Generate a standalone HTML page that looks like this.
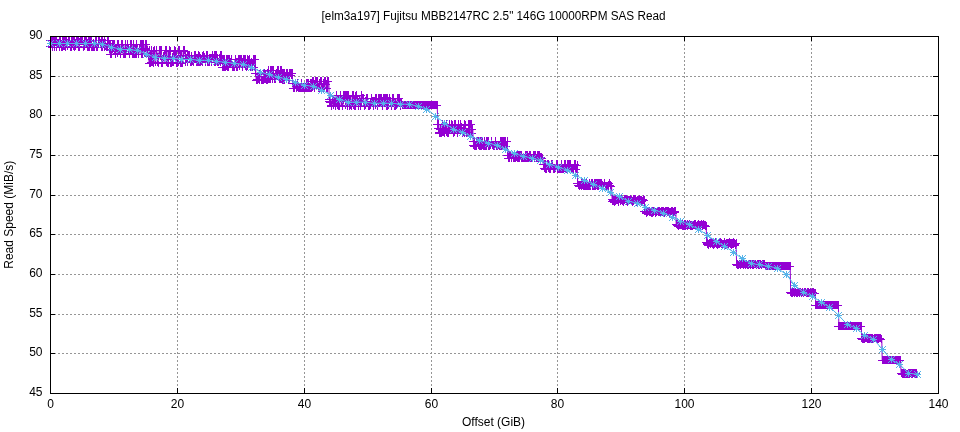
<!DOCTYPE html>
<html><head><meta charset="utf-8"><style>
html,body{margin:0;padding:0;background:#fff;}
svg{display:block;will-change:transform;}
text{font-family:"Liberation Sans",sans-serif;font-size:12px;fill:#000;}
</style></head><body>
<svg width="960" height="432" viewBox="0 0 960 432">
<rect width="960" height="432" fill="#fff"/>
<path d="M177.5 36 V393M304.5 36 V393M431.5 36 V393M557.5 36 V393M684.5 36 V393M811.5 36 V393" stroke="#969696" stroke-width="1" stroke-dasharray="2 2" fill="none"/>
<path d="M50 353.5 H938M50 314.5 H938M50 274.5 H938M50 234.5 H938M50 195.5 H938M50 155.5 H938M50 115.5 H938M50 76.5 H938" stroke="#969696" stroke-width="1" stroke-dasharray="2 2" fill="none"/>
<path d="M50.5 393 v-5M50.5 36 v5M177.5 393 v-5M177.5 36 v5M304.5 393 v-5M304.5 36 v5M431.5 393 v-5M431.5 36 v5M557.5 393 v-5M557.5 36 v5M684.5 393 v-5M684.5 36 v5M811.5 393 v-5M811.5 36 v5M938.5 393 v-5M938.5 36 v5M50 393.5 h5M938 393.5 h-5M50 353.5 h5M938 353.5 h-5M50 314.5 h5M938 314.5 h-5M50 274.5 h5M938 274.5 h-5M50 234.5 h5M938 234.5 h-5M50 195.5 h5M938 195.5 h-5M50 155.5 h5M938 155.5 h-5M50 115.5 h5M938 115.5 h-5M50 76.5 h5M938 76.5 h-5M50 36.5 h5M938 36.5 h-5" stroke="#000" stroke-width="1" fill="none"/>
<g><text x="42.5" y="395.8" text-anchor="end">45</text><text x="42.5" y="355.8" text-anchor="end">50</text><text x="42.5" y="316.8" text-anchor="end">55</text><text x="42.5" y="276.8" text-anchor="end">60</text><text x="42.5" y="236.8" text-anchor="end">65</text><text x="42.5" y="197.8" text-anchor="end">70</text><text x="42.5" y="157.8" text-anchor="end">75</text><text x="42.5" y="117.8" text-anchor="end">80</text><text x="42.5" y="78.8" text-anchor="end">85</text><text x="42.5" y="38.8" text-anchor="end">90</text><text x="50.5" y="408" text-anchor="middle">0</text><text x="177.5" y="408" text-anchor="middle">20</text><text x="304.5" y="408" text-anchor="middle">40</text><text x="431.5" y="408" text-anchor="middle">60</text><text x="557.5" y="408" text-anchor="middle">80</text><text x="684.5" y="408" text-anchor="middle">100</text><text x="811.5" y="408" text-anchor="middle">120</text><text x="938.5" y="408" text-anchor="middle">140</text></g>
<text x="493.6" y="19.9" text-anchor="middle" textLength="344" lengthAdjust="spacingAndGlyphs">[elm3a197] Fujitsu MBB2147RC 2.5" 146G 10000RPM SAS Read</text>
<text x="493.5" y="425.7" text-anchor="middle">Offset (GiB)</text>
<text transform="translate(12.5 214.75) rotate(-90)" text-anchor="middle">Read Speed (MiB/s)</text>
<path d="M50.2 40.0 L50.8 46.9 L51.2 43.7 L51.8 40.0 L52.2 47.0 L52.8 40.0 L53.2 40.6 L53.8 42.6 L54.2 47.0 L54.8 40.0 L55.2 40.0 L55.8 42.6 L56.2 40.0 L56.8 47.0 L57.2 44.2 L57.8 43.8 L58.2 43.8 L58.8 43.1 L59.2 40.0 L59.8 47.0 L60.2 43.0 L60.8 40.0 L61.2 47.0 L61.8 46.8 L62.2 47.0 L62.8 40.0 L63.2 46.9 L63.8 40.0 L64.2 40.3 L64.8 46.5 L65.2 40.0 L65.8 47.0 L66.2 40.0 L66.8 40.0 L67.2 46.4 L67.8 43.4 L68.2 40.0 L68.8 40.3 L69.2 40.0 L69.8 40.0 L70.2 47.0 L70.8 44.3 L71.2 40.0 L71.8 47.0 L72.2 41.0 L72.8 40.0 L73.2 46.7 L73.8 40.0 L74.2 40.2 L74.8 47.0 L75.2 43.4 L75.8 47.0 L76.2 44.2 L76.8 40.0 L77.2 40.0 L77.8 40.0 L78.2 47.0 L78.8 40.9 L79.2 47.0 L79.8 42.7 L80.2 40.9 L80.8 40.4 L81.2 40.6 L81.8 40.0 L82.2 40.4 L82.8 40.0 L83.2 44.2 L83.8 47.0 L84.2 46.4 L84.8 40.0 L85.2 42.6 L85.8 40.0 L86.2 40.0 L86.8 44.3 L87.2 47.0 L87.8 43.7 L88.2 47.0 L88.8 40.8 L89.2 47.0 L89.8 40.3 L90.2 44.0 L90.8 40.0 L91.2 40.1 L91.8 47.0 L92.2 47.0 L92.8 47.0 L93.2 43.9 L93.8 47.0 L94.2 44.1 L94.8 47.0 L95.2 40.0 L95.8 43.7 L96.2 40.3 L96.8 47.0 L97.2 47.0 L97.8 47.0 L98.2 44.2 L98.8 40.5 L99.2 40.2 L99.8 40.0 L100.2 43.5 L100.8 44.3 L101.2 40.0 L101.8 47.0 L102.2 40.0 L102.8 47.0 L103.2 44.3 L103.8 43.8 L104.2 40.0 L104.8 47.0 L105.2 46.8 L105.8 43.1 L106.2 47.0 L106.8 47.0 L107.2 47.0 L107.8 40.0 L108.2 43.1 L108.8 40.0 L109.2 44.2 L109.8 49.8 L110.2 54.0 L110.8 44.2 L111.2 54.1 L111.8 54.1 L112.2 49.7 L112.8 44.2 L113.2 48.2 L113.8 44.2 L114.2 44.2 L114.8 49.0 L115.2 49.5 L115.8 54.1 L116.2 48.5 L116.8 48.5 L117.2 44.2 L117.8 53.5 L118.2 44.2 L118.8 49.2 L119.2 49.7 L119.8 49.7 L120.2 54.1 L120.8 54.1 L121.2 44.2 L121.8 50.0 L122.2 49.3 L122.8 44.2 L123.2 54.0 L123.8 48.6 L124.2 54.1 L124.8 54.1 L125.2 45.0 L125.8 54.1 L126.2 49.7 L126.8 50.0 L127.2 44.2 L127.8 44.2 L128.2 49.7 L128.8 48.2 L129.2 54.1 L129.8 53.4 L130.2 49.7 L130.8 44.2 L131.2 49.6 L131.8 44.2 L132.2 54.1 L132.8 53.3 L133.2 44.3 L133.8 54.1 L134.2 49.2 L134.8 54.1 L135.2 48.9 L135.8 54.1 L136.2 44.2 L136.8 54.1 L137.2 48.6 L137.8 49.2 L138.2 54.1 L138.8 54.1 L139.2 49.8 L139.8 49.1 L140.2 48.3 L140.8 44.2 L141.2 54.1 L141.8 44.2 L142.2 44.2 L142.8 54.1 L143.2 48.8 L143.8 44.4 L144.2 53.4 L144.8 53.1 L145.2 44.2 L145.8 48.8 L146.2 49.4 L146.8 44.7 L147.2 50.4 L147.8 50.4 L148.2 56.6 L148.8 56.5 L149.2 63.0 L149.8 50.7 L150.2 56.8 L150.8 63.0 L151.2 62.5 L151.8 50.4 L152.2 62.6 L152.8 57.5 L153.2 51.4 L153.8 63.0 L154.2 50.9 L154.8 50.4 L155.2 62.8 L155.8 62.3 L156.2 50.4 L156.8 50.4 L157.2 57.5 L157.8 62.2 L158.2 63.0 L158.8 57.1 L159.2 50.4 L159.8 50.4 L160.2 56.7 L160.8 50.4 L161.2 50.4 L161.8 63.0 L162.2 62.2 L162.8 63.0 L163.2 57.2 L163.8 56.6 L164.2 56.6 L164.8 55.7 L165.2 50.4 L165.8 50.4 L166.2 62.8 L166.8 50.4 L167.2 63.0 L167.8 63.0 L168.2 63.0 L168.8 56.5 L169.2 56.7 L169.8 50.4 L170.2 51.2 L170.8 63.0 L171.2 62.8 L171.8 63.0 L172.2 57.2 L172.8 62.8 L173.2 62.1 L173.8 56.6 L174.2 50.4 L174.8 56.9 L175.2 51.3 L175.8 56.4 L176.2 63.0 L176.8 56.5 L177.2 63.0 L177.8 63.0 L178.2 62.0 L178.8 50.4 L179.2 50.4 L179.8 50.4 L180.2 55.9 L180.8 63.0 L181.2 56.7 L181.8 63.0 L182.2 63.0 L182.8 62.2 L183.2 50.4 L183.8 51.3 L184.2 50.4 L184.8 50.4 L185.2 55.3 L185.8 62.1 L186.2 59.0 L186.8 58.4 L187.2 62.3 L187.8 55.7 L188.2 55.3 L188.8 55.3 L189.2 55.8 L189.8 55.3 L190.2 61.4 L190.8 62.3 L191.2 56.1 L191.8 62.3 L192.2 61.8 L192.8 59.7 L193.2 62.2 L193.8 62.3 L194.2 55.3 L194.8 58.7 L195.2 55.3 L195.8 58.0 L196.2 62.3 L196.8 58.3 L197.2 58.6 L197.8 62.3 L198.2 62.3 L198.8 55.3 L199.2 56.1 L199.8 62.3 L200.2 58.3 L200.8 62.3 L201.2 59.1 L201.8 61.7 L202.2 56.3 L202.8 62.3 L203.2 55.3 L203.8 55.3 L204.2 58.0 L204.8 57.9 L205.2 62.3 L205.8 59.1 L206.2 58.8 L206.8 55.3 L207.2 62.3 L207.8 55.3 L208.2 62.3 L208.8 61.7 L209.2 58.3 L209.8 62.3 L210.2 59.8 L210.8 58.9 L211.2 62.3 L211.8 58.5 L212.2 55.3 L212.8 55.3 L213.2 58.8 L213.8 58.4 L214.2 62.3 L214.8 55.6 L215.2 55.3 L215.8 62.3 L216.2 55.3 L216.8 55.3 L217.2 58.0 L217.8 62.3 L218.2 62.3 L218.8 62.3 L219.2 61.9 L219.8 58.6 L220.2 62.3 L220.8 55.3 L221.2 55.3 L221.8 58.6 L222.2 59.1 L222.8 67.0 L223.2 67.0 L223.8 59.6 L224.2 67.0 L224.8 59.1 L225.2 63.2 L225.8 67.0 L226.2 66.1 L226.8 59.1 L227.2 59.1 L227.8 67.0 L228.2 59.4 L228.8 67.0 L229.2 62.5 L229.8 59.6 L230.2 63.6 L230.8 62.7 L231.2 59.1 L231.8 63.1 L232.2 67.0 L232.8 66.8 L233.2 67.0 L233.8 67.0 L234.2 67.0 L234.8 67.0 L235.2 63.5 L235.8 59.1 L236.2 62.3 L236.8 67.0 L237.2 62.4 L237.8 67.0 L238.2 60.0 L238.8 59.1 L239.2 59.4 L239.8 66.4 L240.2 59.1 L240.8 63.9 L241.2 59.1 L241.8 59.1 L242.2 67.0 L242.8 62.5 L243.2 59.1 L243.8 59.6 L244.2 63.1 L244.8 59.1 L245.2 59.9 L245.8 66.7 L246.2 64.0 L246.8 67.0 L247.2 60.0 L247.8 66.8 L248.2 63.1 L248.8 60.1 L249.2 59.1 L249.8 59.1 L250.2 63.6 L250.8 67.0 L251.2 67.0 L251.8 62.6 L252.2 67.0 L252.8 64.0 L253.2 59.2 L253.8 59.1 L254.2 59.7 L254.8 67.0 L255.2 59.1 L255.8 73.5 L256.2 80.0 L256.8 80.1 L257.2 79.7 L257.8 80.1 L258.2 79.3 L258.8 79.5 L259.2 80.1 L259.8 74.2 L260.2 73.5 L260.8 73.5 L261.2 80.1 L261.8 80.1 L262.2 80.1 L262.8 80.1 L263.2 80.1 L263.8 73.5 L264.2 79.6 L264.8 73.5 L265.2 74.5 L265.8 79.5 L266.2 79.7 L266.8 80.1 L267.2 73.5 L267.8 80.1 L268.2 70.2 L268.8 79.4 L269.2 79.7 L269.8 79.4 L270.2 79.7 L270.8 70.2 L271.2 75.4 L271.8 70.2 L272.2 79.7 L272.8 70.2 L273.2 70.2 L273.8 74.1 L274.2 79.6 L274.8 79.7 L275.2 79.7 L275.8 74.6 L276.2 74.0 L276.8 75.3 L277.2 70.2 L277.8 75.2 L278.2 70.2 L278.8 75.3 L279.2 79.7 L279.8 75.5 L280.2 79.7 L280.8 70.7 L281.2 79.7 L281.8 70.2 L282.2 73.0 L282.8 80.0 L283.2 80.0 L283.8 73.9 L284.2 80.0 L284.8 73.0 L285.2 76.9 L285.8 77.4 L286.2 76.4 L286.8 73.0 L287.2 73.8 L287.8 76.6 L288.2 76.0 L288.8 80.0 L289.2 80.0 L289.8 73.6 L290.2 73.8 L290.8 73.1 L291.2 73.0 L291.8 75.7 L292.2 73.0 L292.8 83.3 L293.2 88.4 L293.8 88.8 L294.2 88.8 L294.8 88.8 L295.2 83.3 L295.8 83.3 L296.2 88.1 L296.8 88.3 L297.2 83.3 L297.8 87.9 L298.2 88.1 L298.8 88.8 L299.2 88.8 L299.8 88.8 L300.2 88.8 L300.8 88.8 L301.2 88.8 L301.8 83.3 L302.2 88.8 L302.8 88.8 L303.2 88.8 L303.8 88.8 L304.2 88.8 L304.8 88.8 L305.2 88.4 L305.8 87.9 L306.2 83.3 L306.8 88.6 L307.2 83.7 L307.8 88.3 L308.2 88.8 L308.8 83.3 L309.2 88.8 L309.8 88.8 L310.2 88.8 L310.8 83.3 L311.2 88.8 L311.8 83.9 L312.2 81.0 L312.8 87.0 L313.2 81.0 L313.8 83.6 L314.2 88.0 L314.8 84.2 L315.2 83.6 L315.8 81.8 L316.2 84.5 L316.8 81.0 L317.2 83.9 L317.8 81.8 L318.2 87.4 L318.8 88.0 L319.2 83.8 L319.8 88.0 L320.2 81.3 L320.8 81.8 L321.2 81.0 L321.8 87.6 L322.2 88.0 L322.8 87.3 L323.2 88.0 L323.8 83.7 L324.2 81.0 L324.8 87.4 L325.2 81.0 L325.8 81.0 L326.2 84.8 L326.8 88.0 L327.2 81.0 L327.8 88.0 L328.2 81.3 L328.8 82.0 L329.2 99.0 L329.8 101.6 L330.2 102.1 L330.8 99.6 L331.2 106.1 L331.8 105.6 L332.2 99.1 L332.8 99.8 L333.2 105.2 L333.8 99.0 L334.2 103.4 L334.8 101.9 L335.2 102.8 L335.8 106.1 L336.2 95.2 L336.8 101.4 L337.2 100.7 L337.8 105.5 L338.2 106.2 L338.8 100.2 L339.2 101.2 L339.8 106.2 L340.2 95.2 L340.8 95.2 L341.2 99.8 L341.8 101.1 L342.2 101.4 L342.8 106.2 L343.2 95.2 L343.8 100.6 L344.2 95.8 L344.8 96.0 L345.2 95.2 L345.8 105.7 L346.2 95.2 L346.8 95.2 L347.2 106.2 L347.8 95.4 L348.2 95.8 L348.8 95.2 L349.2 99.5 L349.8 106.2 L350.2 99.5 L350.8 105.6 L351.2 106.2 L351.8 106.2 L352.2 95.2 L352.8 101.2 L353.2 95.2 L353.8 105.5 L354.2 106.2 L354.8 99.9 L355.2 96.2 L355.8 106.2 L356.2 95.2 L356.8 95.2 L357.2 101.6 L357.8 100.4 L358.2 106.2 L358.8 106.2 L359.2 99.8 L359.8 101.1 L360.2 106.2 L360.8 106.1 L361.2 95.2 L361.8 101.3 L362.2 98.3 L362.8 98.4 L363.2 98.3 L363.8 98.3 L364.2 106.2 L364.8 106.2 L365.2 105.6 L365.8 101.4 L366.2 102.0 L366.8 98.3 L367.2 98.3 L367.8 103.1 L368.2 105.7 L368.8 106.2 L369.2 105.9 L369.8 106.2 L370.2 105.2 L370.8 102.0 L371.2 98.3 L371.8 102.8 L372.2 101.4 L372.8 101.7 L373.2 106.2 L373.8 101.3 L374.2 102.1 L374.8 101.5 L375.2 105.7 L375.8 98.3 L376.2 98.3 L376.8 98.7 L377.2 102.0 L377.8 106.2 L378.2 98.3 L378.8 98.3 L379.2 98.6 L379.8 102.9 L380.2 98.3 L380.8 103.1 L381.2 98.7 L381.8 103.2 L382.2 106.2 L382.8 101.4 L383.2 102.0 L383.8 98.3 L384.2 102.2 L384.8 98.3 L385.2 102.2 L385.8 98.6 L386.2 98.3 L386.8 106.2 L387.2 98.5 L387.8 106.2 L388.2 105.2 L388.8 102.0 L389.2 98.3 L389.8 98.3 L390.2 102.2 L390.8 101.8 L391.2 106.2 L391.8 106.2 L392.2 98.6 L392.8 98.3 L393.2 103.2 L393.8 98.3 L394.2 106.2 L394.8 102.5 L395.2 102.1 L395.8 106.2 L396.2 106.0 L396.8 105.3 L397.2 98.3 L397.8 102.0 L398.2 98.3 L398.8 98.3 L399.2 101.7 L399.8 98.4 L400.2 106.2 L400.8 102.6 L401.2 102.5 L401.8 102.9 L402.2 105.9 L402.8 105.2 L403.2 105.3 L403.8 105.3 L404.2 105.3 L404.8 105.3 L405.2 105.3 L405.8 105.2 L406.2 105.3 L406.8 105.2 L407.2 105.2 L407.8 105.2 L408.2 105.2 L408.8 105.3 L409.2 105.3 L409.8 105.2 L410.2 105.3 L410.8 105.2 L411.2 105.3 L411.8 105.2 L412.2 105.2 L412.8 105.2 L413.2 105.3 L413.8 105.3 L414.2 105.2 L414.8 105.3 L415.2 105.3 L415.8 105.2 L416.2 105.2 L416.8 105.2 L417.2 105.3 L417.8 105.2 L418.2 105.3 L418.8 105.2 L419.2 105.3 L419.8 105.3 L420.2 105.2 L420.8 105.2 L421.2 105.2 L421.8 105.2 L422.2 105.2 L422.8 105.3 L423.2 105.3 L423.8 105.2 L424.2 105.3 L424.8 105.2 L425.2 105.2 L425.8 105.2 L426.2 105.2 L426.8 105.2 L427.2 105.3 L427.8 105.2 L428.2 105.2 L428.8 105.2 L429.2 105.2 L429.8 105.2 L430.2 105.2 L430.8 105.2 L431.2 105.2 L431.8 105.3 L432.2 105.3 L432.8 105.2 L433.2 105.2 L433.8 105.3 L434.2 105.2 L434.8 105.3 L435.2 105.3 L435.8 105.3 L436.2 105.3 L436.8 105.2 L437.2 105.2 L437.8 124.2 L438.2 128.8 L438.8 124.2 L439.2 132.3 L439.8 133.3 L440.2 133.3 L440.8 129.4 L441.2 133.3 L441.8 132.5 L442.2 124.2 L442.8 132.8 L443.2 132.3 L443.8 128.2 L444.2 133.3 L444.8 129.4 L445.2 129.0 L445.8 128.3 L446.2 132.9 L446.8 124.2 L447.2 132.7 L447.8 133.3 L448.2 128.1 L448.8 133.3 L449.2 128.6 L449.8 124.2 L450.2 128.4 L450.8 129.7 L451.2 124.2 L451.8 129.3 L452.2 125.2 L452.8 129.7 L453.2 133.3 L453.8 132.7 L454.2 124.6 L454.8 132.9 L455.2 124.2 L455.8 124.2 L456.2 128.5 L456.8 128.2 L457.2 129.5 L457.8 133.3 L458.2 128.9 L458.8 124.9 L459.2 128.7 L459.8 128.6 L460.2 124.2 L460.8 128.9 L461.2 127.8 L461.8 128.6 L462.2 133.3 L462.8 132.6 L463.2 129.7 L463.8 132.9 L464.2 133.3 L464.8 124.2 L465.2 125.2 L465.8 128.2 L466.2 133.3 L466.8 133.3 L467.2 133.3 L467.8 132.4 L468.2 133.3 L468.8 124.8 L469.2 124.2 L469.8 132.7 L470.2 124.5 L470.8 124.3 L471.2 133.3 L471.8 124.8 L472.2 133.3 L472.8 129.6 L473.2 141.0 L473.8 145.4 L474.2 141.0 L474.8 146.2 L475.2 146.2 L475.8 146.2 L476.2 146.2 L476.8 142.0 L477.2 141.3 L477.8 141.0 L478.2 141.3 L478.8 145.2 L479.2 145.8 L479.8 146.2 L480.2 146.2 L480.8 141.0 L481.2 146.1 L481.8 141.0 L482.2 141.0 L482.8 145.6 L483.2 146.2 L483.8 145.9 L484.2 146.2 L484.8 141.3 L485.2 146.2 L485.8 146.1 L486.2 146.2 L486.8 141.0 L487.2 141.2 L487.8 141.7 L488.2 141.7 L488.8 146.2 L489.2 146.0 L489.8 146.2 L490.2 145.3 L490.8 145.8 L491.2 141.0 L491.8 141.4 L492.2 145.7 L492.8 145.5 L493.2 146.2 L493.8 145.9 L494.2 146.2 L494.8 146.2 L495.2 141.8 L495.8 141.0 L496.2 146.2 L496.8 145.9 L497.2 146.2 L497.8 146.2 L498.2 145.9 L498.8 145.8 L499.2 146.2 L499.8 146.2 L500.2 141.0 L500.8 146.2 L501.2 146.2 L501.8 141.0 L502.2 146.2 L502.8 142.0 L503.2 141.0 L503.8 141.0 L504.2 145.4 L504.8 141.0 L505.2 146.2 L505.8 141.6 L506.2 146.2 L506.8 146.2 L507.2 141.7 L507.8 155.1 L508.2 155.1 L508.8 158.5 L509.2 155.7 L509.8 158.5 L510.2 155.2 L510.8 155.1 L511.2 158.1 L511.8 158.0 L512.2 155.1 L512.8 155.1 L513.2 158.4 L513.8 157.7 L514.2 158.5 L514.8 158.5 L515.2 158.5 L515.8 158.5 L516.2 157.5 L516.8 155.1 L517.2 158.5 L517.8 155.2 L518.2 155.1 L518.8 158.5 L519.2 158.5 L519.8 155.1 L520.2 155.1 L520.8 155.9 L521.2 155.1 L521.8 158.5 L522.2 158.5 L522.8 158.5 L523.2 158.5 L523.8 158.0 L524.2 158.4 L524.8 158.2 L525.2 158.4 L525.8 155.1 L526.2 155.2 L526.8 158.3 L527.2 155.1 L527.8 158.5 L528.2 158.0 L528.8 158.5 L529.2 155.1 L529.8 157.5 L530.2 155.1 L530.8 158.5 L531.2 158.1 L531.8 158.5 L532.2 158.5 L532.8 158.5 L533.2 155.1 L533.8 155.1 L534.2 158.4 L534.8 155.1 L535.2 155.5 L535.8 156.1 L536.2 158.2 L536.8 158.5 L537.2 158.5 L537.8 155.6 L538.2 155.3 L538.8 158.5 L539.2 155.1 L539.8 158.5 L540.2 157.5 L540.8 158.3 L541.2 158.5 L541.8 157.6 L542.2 158.4 L542.8 158.3 L543.2 164.2 L543.8 164.2 L544.2 168.3 L544.8 164.9 L545.2 169.2 L545.8 164.2 L546.2 169.2 L546.8 169.2 L547.2 164.2 L547.8 164.2 L548.2 164.9 L548.8 168.3 L549.2 169.0 L549.8 169.2 L550.2 169.2 L550.8 169.2 L551.2 164.7 L551.8 164.4 L552.2 164.2 L552.8 164.2 L553.2 169.2 L553.8 169.2 L554.2 169.2 L554.8 169.2 L555.2 168.9 L555.8 168.7 L556.2 164.7 L556.8 164.2 L557.2 164.8 L557.8 169.2 L558.2 169.2 L558.8 169.2 L559.2 169.1 L559.8 168.7 L560.2 168.4 L560.8 169.2 L561.2 164.2 L561.8 169.2 L562.2 168.5 L562.8 169.2 L563.2 169.2 L563.8 168.6 L564.2 164.3 L564.8 168.4 L565.2 169.2 L565.8 164.2 L566.2 168.9 L566.8 169.2 L567.2 164.9 L567.8 169.2 L568.2 164.2 L568.8 168.7 L569.2 164.2 L569.8 164.2 L570.2 164.2 L570.8 164.2 L571.2 168.5 L571.8 169.2 L572.2 169.2 L572.8 169.2 L573.2 169.2 L573.8 168.7 L574.2 165.1 L574.8 164.2 L575.2 164.2 L575.8 169.2 L576.2 169.2 L576.8 169.2 L577.2 165.1 L577.7 183.0 L578.2 185.4 L578.7 185.5 L579.2 185.5 L579.7 186.3 L580.2 185.4 L580.7 185.4 L581.2 183.1 L581.7 186.3 L582.2 183.0 L582.7 185.5 L583.2 185.7 L583.7 186.0 L584.2 186.3 L584.7 186.1 L585.2 185.5 L585.7 186.3 L586.2 186.3 L586.7 183.0 L587.2 186.3 L587.7 186.3 L588.2 186.3 L588.7 186.3 L589.2 183.0 L589.7 186.3 L590.2 186.3 L590.7 185.5 L591.2 183.0 L591.7 183.0 L592.2 186.3 L592.7 183.0 L593.2 186.3 L593.7 186.3 L594.2 186.3 L594.6 183.0 L595.1 186.3 L595.6 183.0 L596.1 186.0 L596.6 183.5 L597.1 183.2 L597.6 186.3 L598.1 186.2 L598.6 183.8 L599.1 183.0 L599.6 183.0 L600.1 183.0 L600.6 183.3 L601.1 183.0 L601.6 183.8 L602.1 186.3 L602.6 186.0 L603.1 186.3 L603.6 186.3 L604.1 183.5 L604.6 183.0 L605.1 186.3 L605.6 186.0 L606.1 186.3 L606.6 186.3 L607.1 186.3 L607.6 186.3 L608.1 185.9 L608.6 186.3 L609.1 183.0 L609.6 183.0 L610.1 185.4 L610.6 185.6 L611.1 186.3 L611.6 186.3 L612.1 199.2 L612.6 201.1 L613.1 200.0 L613.6 201.0 L614.1 202.1 L614.6 200.6 L615.1 199.9 L615.6 201.5 L616.1 200.0 L616.6 199.2 L617.1 200.0 L617.6 200.7 L618.1 200.8 L618.6 202.1 L619.1 199.8 L619.6 199.8 L620.1 201.2 L620.6 200.7 L621.1 199.2 L621.6 200.2 L622.1 201.6 L622.6 200.9 L623.1 202.1 L623.6 201.5 L624.1 199.7 L624.6 200.5 L625.1 200.0 L625.6 199.2 L626.1 199.7 L626.6 201.2 L627.1 201.0 L627.6 202.1 L628.1 200.3 L628.7 200.2 L629.2 200.4 L629.7 200.9 L630.2 199.2 L630.7 200.8 L631.2 200.7 L631.7 200.3 L632.2 202.1 L632.7 201.4 L633.2 200.0 L633.7 201.6 L634.2 200.0 L634.7 199.2 L635.2 200.0 L635.7 200.2 L636.2 201.0 L636.7 202.1 L637.2 201.5 L637.7 200.4 L638.2 200.6 L638.7 200.8 L639.2 199.2 L639.7 200.6 L640.2 200.9 L640.7 200.2 L641.2 202.1 L641.7 200.1 L642.2 201.2 L642.7 201.5 L643.2 200.5 L643.7 199.2 L644.2 200.6 L644.8 211.0 L645.2 211.8 L645.8 211.5 L646.2 212.7 L646.8 213.2 L647.2 212.7 L647.8 212.7 L648.2 211.5 L648.8 211.7 L649.2 211.0 L649.8 212.1 L650.2 212.7 L650.8 212.9 L651.2 213.2 L651.8 212.4 L652.2 213.1 L652.8 211.7 L653.2 212.5 L653.8 211.0 L654.2 211.4 L654.8 211.2 L655.2 212.6 L655.8 213.2 L656.2 213.0 L656.8 212.1 L657.2 211.8 L657.8 211.4 L658.2 211.0 L658.8 212.7 L659.2 212.1 L659.8 211.6 L660.2 213.2 L660.8 213.0 L661.2 213.0 L661.8 211.7 L662.2 212.3 L662.8 211.0 L663.2 211.7 L663.8 212.1 L664.2 212.8 L664.8 213.2 L665.2 211.6 L665.8 212.3 L666.2 211.8 L666.8 211.2 L667.2 211.0 L667.8 212.4 L668.2 211.9 L668.8 212.0 L669.2 213.2 L669.8 212.5 L670.2 212.2 L670.8 213.0 L671.2 211.6 L671.8 211.0 L672.2 211.5 L672.8 211.2 L673.2 212.2 L673.8 213.2 L674.2 211.7 L674.8 212.4 L675.2 212.0 L675.8 211.3 L676.2 224.4 L676.8 224.5 L677.2 224.9 L677.8 225.2 L678.2 226.3 L678.8 225.8 L679.2 225.6 L679.8 225.6 L680.2 225.8 L680.8 224.4 L681.2 224.4 L681.8 225.1 L682.2 224.6 L682.8 226.3 L683.2 225.5 L683.8 226.3 L684.2 225.0 L684.8 226.1 L685.2 224.4 L685.8 226.1 L686.2 225.9 L686.8 225.2 L687.2 226.3 L687.8 225.0 L688.2 225.2 L688.8 225.9 L689.2 225.3 L689.8 224.4 L690.2 226.1 L690.8 225.9 L691.2 225.7 L691.8 226.3 L692.2 226.2 L692.8 225.7 L693.2 225.7 L693.8 225.9 L694.2 224.4 L694.8 225.8 L695.2 225.2 L695.8 224.9 L696.2 226.3 L696.8 226.3 L697.2 226.2 L697.8 225.5 L698.2 226.0 L698.8 224.4 L699.2 225.9 L699.8 225.5 L700.2 225.8 L700.8 226.3 L701.2 224.6 L701.8 225.0 L702.2 226.3 L702.8 225.5 L703.2 224.4 L703.8 225.6 L704.2 225.7 L704.8 226.0 L705.2 226.3 L705.8 225.3 L706.2 226.3 L706.7 242.9 L707.2 244.6 L707.7 243.7 L708.2 244.4 L708.7 245.2 L709.2 243.8 L709.7 243.1 L710.2 244.4 L710.7 243.7 L711.2 242.9 L711.7 243.4 L712.2 243.2 L712.7 244.5 L713.2 245.2 L713.7 243.1 L714.2 244.8 L714.7 244.5 L715.2 243.7 L715.7 242.9 L716.2 243.7 L716.7 244.7 L717.2 244.3 L717.7 245.2 L718.2 244.3 L718.7 245.0 L719.2 243.9 L719.7 244.7 L720.2 242.9 L720.7 243.8 L721.2 243.5 L721.6 244.8 L722.1 245.2 L722.6 244.5 L723.1 244.4 L723.6 244.7 L724.1 244.2 L724.6 242.9 L725.1 245.0 L725.6 244.8 L726.1 243.3 L726.6 245.2 L727.1 243.6 L727.6 244.4 L728.1 244.0 L728.6 244.2 L729.1 242.9 L729.6 243.6 L730.1 243.1 L730.6 244.2 L731.1 245.2 L731.6 244.0 L732.1 243.7 L732.6 244.6 L733.1 244.4 L733.6 242.9 L734.1 243.8 L734.6 244.0 L735.1 244.1 L735.6 245.2 L736.1 243.1 L736.6 264.4 L737.1 265.1 L737.6 264.4 L738.1 265.2 L738.6 265.2 L739.1 264.7 L739.6 264.9 L740.1 265.2 L740.6 265.2 L741.1 264.4 L741.6 264.9 L742.1 264.4 L742.6 264.9 L743.1 265.2 L743.6 264.4 L744.1 264.6 L744.6 264.4 L745.1 265.2 L745.6 264.4 L746.1 265.0 L746.6 264.8 L747.1 265.2 L747.6 265.2 L748.1 264.5 L748.6 265.1 L749.1 264.4 L749.6 264.4 L750.1 264.4 L750.6 265.2 L751.2 264.4 L751.7 264.4 L752.2 265.2 L752.7 264.4 L753.2 265.2 L753.7 264.4 L754.2 264.4 L754.7 264.4 L755.2 264.4 L755.7 264.4 L756.2 265.1 L756.7 265.2 L757.2 264.6 L757.7 264.4 L758.2 264.4 L758.7 265.2 L759.2 264.4 L759.7 265.2 L760.2 264.4 L760.7 264.4 L761.2 265.2 L761.7 265.2 L762.2 264.6 L762.7 264.8 L763.2 264.8 L763.7 264.4 L764.2 264.4 L764.7 264.6 L765.2 266.3 L765.7 266.3 L766.2 266.3 L766.7 266.3 L767.2 266.3 L767.7 266.3 L768.2 266.3 L768.7 266.3 L769.2 266.3 L769.7 266.3 L770.2 266.3 L770.7 266.3 L771.2 266.3 L771.7 266.3 L772.2 266.3 L772.7 266.3 L773.2 266.3 L773.7 266.3 L774.2 266.3 L774.7 266.3 L775.2 266.3 L775.7 266.3 L776.2 266.3 L776.7 266.3 L777.2 266.3 L777.7 266.3 L778.2 266.3 L778.7 266.3 L779.2 266.3 L779.7 266.3 L780.2 266.3 L780.7 266.3 L781.2 266.3 L781.7 266.3 L782.2 266.3 L782.7 266.3 L783.2 266.3 L783.7 266.3 L784.2 266.3 L784.7 266.3 L785.2 266.3 L785.7 266.3 L786.2 266.3 L786.7 266.3 L787.2 266.3 L787.7 266.3 L788.2 266.3 L788.7 266.3 L789.2 266.3 L789.7 266.3 L790.2 266.3 L790.7 292.9 L791.2 293.2 L791.7 292.9 L792.2 292.9 L792.7 293.2 L793.2 292.9 L793.7 292.9 L794.2 292.9 L794.7 293.2 L795.2 292.9 L795.7 292.9 L796.2 293.2 L796.7 293.2 L797.2 293.2 L797.7 292.9 L798.2 293.0 L798.7 292.9 L799.2 293.2 L799.7 292.9 L800.2 292.9 L800.7 292.9 L801.2 293.2 L801.7 293.2 L802.2 292.9 L802.7 293.0 L803.3 293.2 L803.8 293.2 L804.3 292.9 L804.8 292.9 L805.3 292.9 L805.8 292.9 L806.3 293.2 L806.8 293.2 L807.3 292.9 L807.8 293.2 L808.3 293.2 L808.8 292.9 L809.3 293.2 L809.8 293.2 L810.3 293.0 L810.8 293.2 L811.3 293.2 L811.8 293.1 L812.3 292.9 L812.8 293.2 L813.3 292.9 L813.8 293.0 L814.3 293.2 L814.8 293.2 L815.3 293.2 L815.9 305.8 L816.4 305.8 L816.9 305.8 L817.4 305.8 L817.9 305.8 L818.4 305.8 L818.9 305.8 L819.4 305.8 L819.9 305.8 L820.4 305.8 L820.9 305.8 L821.4 305.8 L821.9 305.8 L822.4 305.8 L822.9 305.8 L823.4 305.8 L823.9 305.8 L824.4 305.8 L824.9 305.8 L825.4 305.8 L825.9 305.8 L826.4 305.8 L826.9 305.8 L827.4 305.8 L827.9 305.8 L828.4 305.8 L828.9 305.8 L829.4 305.8 L829.9 305.8 L830.4 305.8 L830.9 305.8 L831.4 305.8 L831.9 305.8 L832.4 305.8 L832.9 305.8 L833.4 305.8 L833.9 305.8 L834.4 305.8 L834.9 305.8 L835.4 305.8 L835.9 305.8 L836.4 305.8 L836.9 305.8 L837.4 305.8 L837.9 305.8 L838.4 305.8 L838.9 326.6 L839.4 326.6 L839.9 326.6 L840.4 326.6 L840.9 326.6 L841.4 326.6 L841.9 326.6 L842.4 326.6 L842.9 326.6 L843.4 326.6 L843.9 326.6 L844.4 326.6 L844.9 326.6 L845.4 326.6 L845.9 326.6 L846.4 326.6 L846.9 326.6 L847.4 326.6 L847.9 326.6 L848.4 326.6 L848.9 326.6 L849.4 326.6 L849.9 326.6 L850.3 326.6 L850.8 326.6 L851.3 326.6 L851.8 326.6 L852.3 326.6 L852.8 326.6 L853.3 326.6 L853.8 326.6 L854.3 326.6 L854.8 326.6 L855.3 326.6 L855.8 326.6 L856.3 326.6 L856.8 326.6 L857.3 326.6 L857.8 326.6 L858.3 326.6 L858.8 326.6 L859.3 326.6 L859.8 326.6 L860.3 326.6 L860.8 326.6 L861.3 326.6 L861.8 338.9 L862.2 338.9 L862.8 339.1 L863.2 339.1 L863.8 339.1 L864.2 338.9 L864.8 339.1 L865.2 338.9 L865.8 338.9 L866.2 338.9 L866.8 338.9 L867.2 338.9 L867.8 339.1 L868.2 339.1 L868.8 338.9 L869.2 339.1 L869.8 338.9 L870.2 339.1 L870.8 338.9 L871.2 338.9 L871.8 339.1 L872.2 338.9 L872.8 339.1 L873.2 339.1 L873.8 339.1 L874.2 338.9 L874.8 338.9 L875.2 338.9 L875.8 338.9 L876.2 338.9 L876.8 338.9 L877.2 339.1 L877.8 338.9 L878.2 339.1 L878.8 338.9 L879.2 338.9 L879.8 338.9 L880.2 338.9 L880.8 338.9 L881.2 339.1 L881.8 339.1 L882.2 360.2 L882.7 360.2 L883.2 360.2 L883.7 360.2 L884.2 360.2 L884.7 360.2 L885.2 360.2 L885.7 360.2 L886.2 360.2 L886.7 360.2 L887.2 360.2 L887.7 360.2 L888.2 360.2 L888.7 360.2 L889.2 360.2 L889.7 360.2 L890.2 360.2 L890.7 360.2 L891.2 360.2 L891.6 360.2 L892.1 360.2 L892.6 360.2 L893.1 360.2 L893.6 360.2 L894.1 360.2 L894.6 360.2 L895.1 360.2 L895.6 360.2 L896.1 360.2 L896.6 360.2 L897.1 360.2 L897.6 360.2 L898.1 360.2 L898.6 360.2 L899.1 360.2 L899.6 360.2 L900.1 360.2 L900.6 360.2 L901.1 373.2 L901.6 373.5 L902.1 373.8 L902.6 374.0 L903.1 374.0 L903.6 373.8 L904.1 374.0 L904.6 373.6 L905.1 374.0 L905.6 373.2 L906.1 374.0 L906.6 374.0 L907.1 374.0 L907.6 374.0 L908.1 374.0 L908.6 373.2 L909.2 374.0 L909.7 373.2 L910.2 373.2 L910.7 373.6 L911.2 373.2 L911.7 374.0 L912.2 374.0 L912.7 373.9 L913.2 373.3 L913.7 373.5 L914.2 373.8 L914.7 373.2 L915.2 374.0 L915.7 373.2 L916.2 373.9 L916.7 374.0" stroke="#9400d3" stroke-width="1" fill="none"/>
<path d="M46 40.5h8M50.5 36v8M46 46.5h8M50.5 42v8M47 43.5h8M51.5 39v8M47 40.5h8M51.5 36v8M48 47.5h8M52.5 43v8M48 40.5h8M52.5 36v8M49 40.5h8M53.5 36v8M49 42.5h8M53.5 38v8M50 47.5h8M54.5 43v8M50 40.5h8M54.5 36v8M51 40.5h8M55.5 36v8M51 42.5h8M55.5 38v8M52 40.5h8M56.5 36v8M52 47.5h8M56.5 43v8M53 44.5h8M57.5 40v8M53 43.5h8M57.5 39v8M54 43.5h8M58.5 39v8M54 43.5h8M58.5 39v8M55 40.5h8M59.5 36v8M55 47.5h8M59.5 43v8M56 42.5h8M60.5 38v8M56 40.5h8M60.5 36v8M57 47.5h8M61.5 43v8M57 46.5h8M61.5 42v8M58 47.5h8M62.5 43v8M58 40.5h8M62.5 36v8M59 46.5h8M63.5 42v8M59 40.5h8M63.5 36v8M60 40.5h8M64.5 36v8M60 46.5h8M64.5 42v8M61 40.5h8M65.5 36v8M61 47.5h8M65.5 43v8M62 40.5h8M66.5 36v8M62 40.5h8M66.5 36v8M63 46.5h8M67.5 42v8M63 43.5h8M67.5 39v8M64 40.5h8M68.5 36v8M64 40.5h8M68.5 36v8M65 40.5h8M69.5 36v8M65 40.5h8M69.5 36v8M66 47.5h8M70.5 43v8M66 44.5h8M70.5 40v8M67 40.5h8M71.5 36v8M67 47.5h8M71.5 43v8M68 40.5h8M72.5 36v8M68 40.5h8M72.5 36v8M69 46.5h8M73.5 42v8M69 40.5h8M73.5 36v8M70 40.5h8M74.5 36v8M70 47.5h8M74.5 43v8M71 43.5h8M75.5 39v8M71 46.5h8M75.5 42v8M72 44.5h8M76.5 40v8M72 40.5h8M76.5 36v8M73 40.5h8M77.5 36v8M73 40.5h8M77.5 36v8M74 47.5h8M78.5 43v8M74 40.5h8M78.5 36v8M75 47.5h8M79.5 43v8M75 42.5h8M79.5 38v8M76 40.5h8M80.5 36v8M76 40.5h8M80.5 36v8M77 40.5h8M81.5 36v8M77 40.5h8M81.5 36v8M78 40.5h8M82.5 36v8M78 40.5h8M82.5 36v8M79 44.5h8M83.5 40v8M79 47.5h8M83.5 43v8M80 46.5h8M84.5 42v8M80 40.5h8M84.5 36v8M81 42.5h8M85.5 38v8M81 40.5h8M85.5 36v8M82 40.5h8M86.5 36v8M82 44.5h8M86.5 40v8M83 47.5h8M87.5 43v8M83 43.5h8M87.5 39v8M84 47.5h8M88.5 43v8M84 40.5h8M88.5 36v8M85 47.5h8M89.5 43v8M85 40.5h8M89.5 36v8M86 43.5h8M90.5 39v8M86 40.5h8M90.5 36v8M87 40.5h8M91.5 36v8M87 47.5h8M91.5 43v8M88 47.5h8M92.5 43v8M88 47.5h8M92.5 43v8M89 43.5h8M93.5 39v8M89 47.5h8M93.5 43v8M90 44.5h8M94.5 40v8M90 47.5h8M94.5 43v8M91 40.5h8M95.5 36v8M91 43.5h8M95.5 39v8M92 40.5h8M96.5 36v8M92 47.5h8M96.5 43v8M93 47.5h8M97.5 43v8M93 47.5h8M97.5 43v8M94 44.5h8M98.5 40v8M94 40.5h8M98.5 36v8M95 40.5h8M99.5 36v8M95 40.5h8M99.5 36v8M96 43.5h8M100.5 39v8M96 44.5h8M100.5 40v8M97 40.5h8M101.5 36v8M97 47.5h8M101.5 43v8M98 40.5h8M102.5 36v8M98 47.5h8M102.5 43v8M99 44.5h8M103.5 40v8M99 43.5h8M103.5 39v8M100 40.5h8M104.5 36v8M100 47.5h8M104.5 43v8M101 46.5h8M105.5 42v8M101 43.5h8M105.5 39v8M102 47.5h8M106.5 43v8M102 47.5h8M106.5 43v8M103 47.5h8M107.5 43v8M103 40.5h8M107.5 36v8M104 43.5h8M108.5 39v8M104 40.5h8M108.5 36v8M105 44.5h8M109.5 40v8M105 49.5h8M109.5 45v8M106 54.5h8M110.5 50v8M106 44.5h8M110.5 40v8M107 54.5h8M111.5 50v8M107 54.5h8M111.5 50v8M108 49.5h8M112.5 45v8M108 44.5h8M112.5 40v8M109 48.5h8M113.5 44v8M109 44.5h8M113.5 40v8M110 44.5h8M114.5 40v8M110 49.5h8M114.5 45v8M111 49.5h8M115.5 45v8M111 54.5h8M115.5 50v8M112 48.5h8M116.5 44v8M112 48.5h8M116.5 44v8M113 44.5h8M117.5 40v8M113 53.5h8M117.5 49v8M114 44.5h8M118.5 40v8M114 49.5h8M118.5 45v8M115 49.5h8M119.5 45v8M115 49.5h8M119.5 45v8M116 54.5h8M120.5 50v8M116 54.5h8M120.5 50v8M117 44.5h8M121.5 40v8M117 49.5h8M121.5 45v8M118 49.5h8M122.5 45v8M118 44.5h8M122.5 40v8M119 54.5h8M123.5 50v8M119 48.5h8M123.5 44v8M120 54.5h8M124.5 50v8M120 54.5h8M124.5 50v8M121 44.5h8M125.5 40v8M121 54.5h8M125.5 50v8M122 49.5h8M126.5 45v8M122 49.5h8M126.5 45v8M123 44.5h8M127.5 40v8M123 44.5h8M127.5 40v8M124 49.5h8M128.5 45v8M124 48.5h8M128.5 44v8M125 54.5h8M129.5 50v8M125 53.5h8M129.5 49v8M126 49.5h8M130.5 45v8M126 44.5h8M130.5 40v8M127 49.5h8M131.5 45v8M127 44.5h8M131.5 40v8M128 54.5h8M132.5 50v8M128 53.5h8M132.5 49v8M129 44.5h8M133.5 40v8M129 54.5h8M133.5 50v8M130 49.5h8M134.5 45v8M130 54.5h8M134.5 50v8M131 48.5h8M135.5 44v8M131 54.5h8M135.5 50v8M132 44.5h8M136.5 40v8M132 54.5h8M136.5 50v8M133 48.5h8M137.5 44v8M133 49.5h8M137.5 45v8M134 54.5h8M138.5 50v8M134 54.5h8M138.5 50v8M135 49.5h8M139.5 45v8M135 49.5h8M139.5 45v8M136 48.5h8M140.5 44v8M136 44.5h8M140.5 40v8M137 54.5h8M141.5 50v8M137 44.5h8M141.5 40v8M138 44.5h8M142.5 40v8M138 54.5h8M142.5 50v8M139 48.5h8M143.5 44v8M139 44.5h8M143.5 40v8M140 53.5h8M144.5 49v8M140 53.5h8M144.5 49v8M141 44.5h8M145.5 40v8M141 48.5h8M145.5 44v8M142 49.5h8M146.5 45v8M142 44.5h8M146.5 40v8M143 50.5h8M147.5 46v8M143 50.5h8M147.5 46v8M144 56.5h8M148.5 52v8M144 56.5h8M148.5 52v8M145 63.5h8M149.5 59v8M145 50.5h8M149.5 46v8M146 56.5h8M150.5 52v8M146 63.5h8M150.5 59v8M147 62.5h8M151.5 58v8M147 50.5h8M151.5 46v8M148 62.5h8M152.5 58v8M148 57.5h8M152.5 53v8M149 51.5h8M153.5 47v8M149 63.5h8M153.5 59v8M150 50.5h8M154.5 46v8M150 50.5h8M154.5 46v8M151 62.5h8M155.5 58v8M151 62.5h8M155.5 58v8M152 50.5h8M156.5 46v8M152 50.5h8M156.5 46v8M153 57.5h8M157.5 53v8M153 62.5h8M157.5 58v8M154 63.5h8M158.5 59v8M154 57.5h8M158.5 53v8M155 50.5h8M159.5 46v8M155 50.5h8M159.5 46v8M156 56.5h8M160.5 52v8M156 50.5h8M160.5 46v8M157 50.5h8M161.5 46v8M157 63.5h8M161.5 59v8M158 62.5h8M162.5 58v8M158 63.5h8M162.5 59v8M159 57.5h8M163.5 53v8M159 56.5h8M163.5 52v8M160 56.5h8M164.5 52v8M160 55.5h8M164.5 51v8M161 50.5h8M165.5 46v8M161 50.5h8M165.5 46v8M162 62.5h8M166.5 58v8M162 50.5h8M166.5 46v8M163 63.5h8M167.5 59v8M163 63.5h8M167.5 59v8M164 63.5h8M168.5 59v8M164 56.5h8M168.5 52v8M165 56.5h8M169.5 52v8M165 50.5h8M169.5 46v8M166 51.5h8M170.5 47v8M166 63.5h8M170.5 59v8M167 62.5h8M171.5 58v8M167 63.5h8M171.5 59v8M168 57.5h8M172.5 53v8M168 62.5h8M172.5 58v8M169 62.5h8M173.5 58v8M169 56.5h8M173.5 52v8M170 50.5h8M174.5 46v8M170 56.5h8M174.5 52v8M171 51.5h8M175.5 47v8M171 56.5h8M175.5 52v8M172 63.5h8M176.5 59v8M172 56.5h8M176.5 52v8M173 63.5h8M177.5 59v8M173 63.5h8M177.5 59v8M174 62.5h8M178.5 58v8M174 50.5h8M178.5 46v8M175 50.5h8M179.5 46v8M175 50.5h8M179.5 46v8M176 55.5h8M180.5 51v8M176 63.5h8M180.5 59v8M177 56.5h8M181.5 52v8M177 63.5h8M181.5 59v8M178 63.5h8M182.5 59v8M178 62.5h8M182.5 58v8M179 50.5h8M183.5 46v8M179 51.5h8M183.5 47v8M180 50.5h8M184.5 46v8M180 50.5h8M184.5 46v8M181 55.5h8M185.5 51v8M181 62.5h8M185.5 58v8M182 58.5h8M186.5 54v8M182 58.5h8M186.5 54v8M183 62.5h8M187.5 58v8M183 55.5h8M187.5 51v8M184 55.5h8M188.5 51v8M184 55.5h8M188.5 51v8M185 55.5h8M189.5 51v8M185 55.5h8M189.5 51v8M186 61.5h8M190.5 57v8M186 62.5h8M190.5 58v8M187 56.5h8M191.5 52v8M187 62.5h8M191.5 58v8M188 61.5h8M192.5 57v8M188 59.5h8M192.5 55v8M189 62.5h8M193.5 58v8M189 62.5h8M193.5 58v8M190 55.5h8M194.5 51v8M190 58.5h8M194.5 54v8M191 55.5h8M195.5 51v8M191 58.5h8M195.5 54v8M192 62.5h8M196.5 58v8M192 58.5h8M196.5 54v8M193 58.5h8M197.5 54v8M193 62.5h8M197.5 58v8M194 62.5h8M198.5 58v8M194 55.5h8M198.5 51v8M195 56.5h8M199.5 52v8M195 62.5h8M199.5 58v8M196 58.5h8M200.5 54v8M196 62.5h8M200.5 58v8M197 59.5h8M201.5 55v8M197 61.5h8M201.5 57v8M198 56.5h8M202.5 52v8M198 62.5h8M202.5 58v8M199 55.5h8M203.5 51v8M199 55.5h8M203.5 51v8M200 58.5h8M204.5 54v8M200 57.5h8M204.5 53v8M201 62.5h8M205.5 58v8M201 59.5h8M205.5 55v8M202 58.5h8M206.5 54v8M202 55.5h8M206.5 51v8M203 62.5h8M207.5 58v8M203 55.5h8M207.5 51v8M204 62.5h8M208.5 58v8M204 61.5h8M208.5 57v8M205 58.5h8M209.5 54v8M205 62.5h8M209.5 58v8M206 59.5h8M210.5 55v8M206 58.5h8M210.5 54v8M207 62.5h8M211.5 58v8M207 58.5h8M211.5 54v8M208 55.5h8M212.5 51v8M208 55.5h8M212.5 51v8M209 58.5h8M213.5 54v8M209 58.5h8M213.5 54v8M210 62.5h8M214.5 58v8M210 55.5h8M214.5 51v8M211 55.5h8M215.5 51v8M211 62.5h8M215.5 58v8M212 55.5h8M216.5 51v8M212 55.5h8M216.5 51v8M213 58.5h8M217.5 54v8M213 62.5h8M217.5 58v8M214 62.5h8M218.5 58v8M214 62.5h8M218.5 58v8M215 61.5h8M219.5 57v8M215 58.5h8M219.5 54v8M216 62.5h8M220.5 58v8M216 55.5h8M220.5 51v8M217 55.5h8M221.5 51v8M217 58.5h8M221.5 54v8M218 59.5h8M222.5 55v8M218 67.5h8M222.5 63v8M219 67.5h8M223.5 63v8M219 59.5h8M223.5 55v8M220 67.5h8M224.5 63v8M220 59.5h8M224.5 55v8M221 63.5h8M225.5 59v8M221 67.5h8M225.5 63v8M222 66.5h8M226.5 62v8M222 59.5h8M226.5 55v8M223 59.5h8M227.5 55v8M223 67.5h8M227.5 63v8M224 59.5h8M228.5 55v8M224 67.5h8M228.5 63v8M225 62.5h8M229.5 58v8M225 59.5h8M229.5 55v8M226 63.5h8M230.5 59v8M226 62.5h8M230.5 58v8M227 59.5h8M231.5 55v8M227 63.5h8M231.5 59v8M228 67.5h8M232.5 63v8M228 66.5h8M232.5 62v8M229 67.5h8M233.5 63v8M229 67.5h8M233.5 63v8M230 67.5h8M234.5 63v8M230 67.5h8M234.5 63v8M231 63.5h8M235.5 59v8M231 59.5h8M235.5 55v8M232 62.5h8M236.5 58v8M232 67.5h8M236.5 63v8M233 62.5h8M237.5 58v8M233 67.5h8M237.5 63v8M234 60.5h8M238.5 56v8M234 59.5h8M238.5 55v8M235 59.5h8M239.5 55v8M235 66.5h8M239.5 62v8M236 59.5h8M240.5 55v8M236 63.5h8M240.5 59v8M237 59.5h8M241.5 55v8M237 59.5h8M241.5 55v8M238 67.5h8M242.5 63v8M238 62.5h8M242.5 58v8M239 59.5h8M243.5 55v8M239 59.5h8M243.5 55v8M240 63.5h8M244.5 59v8M240 59.5h8M244.5 55v8M241 59.5h8M245.5 55v8M241 66.5h8M245.5 62v8M242 63.5h8M246.5 59v8M242 67.5h8M246.5 63v8M243 59.5h8M247.5 55v8M243 66.5h8M247.5 62v8M244 63.5h8M248.5 59v8M244 60.5h8M248.5 56v8M245 59.5h8M249.5 55v8M245 59.5h8M249.5 55v8M246 63.5h8M250.5 59v8M246 67.5h8M250.5 63v8M247 67.5h8M251.5 63v8M247 62.5h8M251.5 58v8M248 67.5h8M252.5 63v8M248 64.5h8M252.5 60v8M249 59.5h8M253.5 55v8M249 59.5h8M253.5 55v8M250 59.5h8M254.5 55v8M250 67.5h8M254.5 63v8M251 59.5h8M255.5 55v8M251 73.5h8M255.5 69v8M252 80.5h8M256.5 76v8M252 80.5h8M256.5 76v8M253 79.5h8M257.5 75v8M253 80.5h8M257.5 76v8M254 79.5h8M258.5 75v8M254 79.5h8M258.5 75v8M255 80.5h8M259.5 76v8M255 74.5h8M259.5 70v8M256 73.5h8M260.5 69v8M256 73.5h8M260.5 69v8M257 80.5h8M261.5 76v8M257 80.5h8M261.5 76v8M258 80.5h8M262.5 76v8M258 80.5h8M262.5 76v8M259 80.5h8M263.5 76v8M259 73.5h8M263.5 69v8M260 79.5h8M264.5 75v8M260 73.5h8M264.5 69v8M261 74.5h8M265.5 70v8M261 79.5h8M265.5 75v8M262 79.5h8M266.5 75v8M262 80.5h8M266.5 76v8M263 73.5h8M267.5 69v8M263 80.5h8M267.5 76v8M264 70.5h8M268.5 66v8M264 79.5h8M268.5 75v8M265 79.5h8M269.5 75v8M265 79.5h8M269.5 75v8M266 79.5h8M270.5 75v8M266 70.5h8M270.5 66v8M267 75.5h8M271.5 71v8M267 70.5h8M271.5 66v8M268 79.5h8M272.5 75v8M268 70.5h8M272.5 66v8M269 70.5h8M273.5 66v8M269 74.5h8M273.5 70v8M270 79.5h8M274.5 75v8M270 79.5h8M274.5 75v8M271 79.5h8M275.5 75v8M271 74.5h8M275.5 70v8M272 73.5h8M276.5 69v8M272 75.5h8M276.5 71v8M273 70.5h8M277.5 66v8M273 75.5h8M277.5 71v8M274 70.5h8M278.5 66v8M274 75.5h8M278.5 71v8M275 79.5h8M279.5 75v8M275 75.5h8M279.5 71v8M276 79.5h8M280.5 75v8M276 70.5h8M280.5 66v8M277 79.5h8M281.5 75v8M277 70.5h8M281.5 66v8M278 73.5h8M282.5 69v8M278 80.5h8M282.5 76v8M279 80.5h8M283.5 76v8M279 73.5h8M283.5 69v8M280 80.5h8M284.5 76v8M280 73.5h8M284.5 69v8M281 76.5h8M285.5 72v8M281 77.5h8M285.5 73v8M282 76.5h8M286.5 72v8M282 73.5h8M286.5 69v8M283 73.5h8M287.5 69v8M283 76.5h8M287.5 72v8M284 76.5h8M288.5 72v8M284 80.5h8M288.5 76v8M285 80.5h8M289.5 76v8M285 73.5h8M289.5 69v8M286 73.5h8M290.5 69v8M286 73.5h8M290.5 69v8M287 73.5h8M291.5 69v8M287 75.5h8M291.5 71v8M288 73.5h8M292.5 69v8M288 83.5h8M292.5 79v8M289 88.5h8M293.5 84v8M289 88.5h8M293.5 84v8M290 88.5h8M294.5 84v8M290 88.5h8M294.5 84v8M291 83.5h8M295.5 79v8M291 83.5h8M295.5 79v8M292 88.5h8M296.5 84v8M292 88.5h8M296.5 84v8M293 83.5h8M297.5 79v8M293 87.5h8M297.5 83v8M294 88.5h8M298.5 84v8M294 88.5h8M298.5 84v8M295 88.5h8M299.5 84v8M295 88.5h8M299.5 84v8M296 88.5h8M300.5 84v8M296 88.5h8M300.5 84v8M297 88.5h8M301.5 84v8M297 83.5h8M301.5 79v8M298 88.5h8M302.5 84v8M298 88.5h8M302.5 84v8M299 88.5h8M303.5 84v8M299 88.5h8M303.5 84v8M300 88.5h8M304.5 84v8M300 88.5h8M304.5 84v8M301 88.5h8M305.5 84v8M301 87.5h8M305.5 83v8M302 83.5h8M306.5 79v8M302 88.5h8M306.5 84v8M303 83.5h8M307.5 79v8M303 88.5h8M307.5 84v8M304 88.5h8M308.5 84v8M304 83.5h8M308.5 79v8M305 88.5h8M309.5 84v8M305 88.5h8M309.5 84v8M306 88.5h8M310.5 84v8M306 83.5h8M310.5 79v8M307 88.5h8M311.5 84v8M307 83.5h8M311.5 79v8M308 81.5h8M312.5 77v8M308 87.5h8M312.5 83v8M309 81.5h8M313.5 77v8M309 83.5h8M313.5 79v8M310 88.5h8M314.5 84v8M310 84.5h8M314.5 80v8M311 83.5h8M315.5 79v8M311 81.5h8M315.5 77v8M312 84.5h8M316.5 80v8M312 81.5h8M316.5 77v8M313 83.5h8M317.5 79v8M313 81.5h8M317.5 77v8M314 87.5h8M318.5 83v8M314 88.5h8M318.5 84v8M315 83.5h8M319.5 79v8M315 88.5h8M319.5 84v8M316 81.5h8M320.5 77v8M316 81.5h8M320.5 77v8M317 81.5h8M321.5 77v8M317 87.5h8M321.5 83v8M318 88.5h8M322.5 84v8M318 87.5h8M322.5 83v8M319 88.5h8M323.5 84v8M319 83.5h8M323.5 79v8M320 81.5h8M324.5 77v8M320 87.5h8M324.5 83v8M321 81.5h8M325.5 77v8M321 81.5h8M325.5 77v8M322 84.5h8M326.5 80v8M322 88.5h8M326.5 84v8M323 81.5h8M327.5 77v8M323 88.5h8M327.5 84v8M324 81.5h8M328.5 77v8M324 81.5h8M328.5 77v8M325 99.5h8M329.5 95v8M325 101.5h8M329.5 97v8M326 102.5h8M330.5 98v8M326 99.5h8M330.5 95v8M327 106.5h8M331.5 102v8M327 105.5h8M331.5 101v8M328 99.5h8M332.5 95v8M328 99.5h8M332.5 95v8M329 105.5h8M333.5 101v8M329 99.5h8M333.5 95v8M330 103.5h8M334.5 99v8M330 101.5h8M334.5 97v8M331 102.5h8M335.5 98v8M331 106.5h8M335.5 102v8M332 95.5h8M336.5 91v8M332 101.5h8M336.5 97v8M333 100.5h8M337.5 96v8M333 105.5h8M337.5 101v8M334 106.5h8M338.5 102v8M334 100.5h8M338.5 96v8M335 101.5h8M339.5 97v8M335 106.5h8M339.5 102v8M336 95.5h8M340.5 91v8M336 95.5h8M340.5 91v8M337 99.5h8M341.5 95v8M337 101.5h8M341.5 97v8M338 101.5h8M342.5 97v8M338 106.5h8M342.5 102v8M339 95.5h8M343.5 91v8M339 100.5h8M343.5 96v8M340 95.5h8M344.5 91v8M340 96.5h8M344.5 92v8M341 95.5h8M345.5 91v8M341 105.5h8M345.5 101v8M342 95.5h8M346.5 91v8M342 95.5h8M346.5 91v8M343 106.5h8M347.5 102v8M343 95.5h8M347.5 91v8M344 95.5h8M348.5 91v8M344 95.5h8M348.5 91v8M345 99.5h8M349.5 95v8M345 106.5h8M349.5 102v8M346 99.5h8M350.5 95v8M346 105.5h8M350.5 101v8M347 106.5h8M351.5 102v8M347 106.5h8M351.5 102v8M348 95.5h8M352.5 91v8M348 101.5h8M352.5 97v8M349 95.5h8M353.5 91v8M349 105.5h8M353.5 101v8M350 106.5h8M354.5 102v8M350 99.5h8M354.5 95v8M351 96.5h8M355.5 92v8M351 106.5h8M355.5 102v8M352 95.5h8M356.5 91v8M352 95.5h8M356.5 91v8M353 101.5h8M357.5 97v8M353 100.5h8M357.5 96v8M354 106.5h8M358.5 102v8M354 106.5h8M358.5 102v8M355 99.5h8M359.5 95v8M355 101.5h8M359.5 97v8M356 106.5h8M360.5 102v8M356 106.5h8M360.5 102v8M357 95.5h8M361.5 91v8M357 101.5h8M361.5 97v8M358 98.5h8M362.5 94v8M358 98.5h8M362.5 94v8M359 98.5h8M363.5 94v8M359 98.5h8M363.5 94v8M360 106.5h8M364.5 102v8M360 106.5h8M364.5 102v8M361 105.5h8M365.5 101v8M361 101.5h8M365.5 97v8M362 101.5h8M366.5 97v8M362 98.5h8M366.5 94v8M363 98.5h8M367.5 94v8M363 103.5h8M367.5 99v8M364 105.5h8M368.5 101v8M364 106.5h8M368.5 102v8M365 105.5h8M369.5 101v8M365 106.5h8M369.5 102v8M366 105.5h8M370.5 101v8M366 102.5h8M370.5 98v8M367 98.5h8M371.5 94v8M367 102.5h8M371.5 98v8M368 101.5h8M372.5 97v8M368 101.5h8M372.5 97v8M369 106.5h8M373.5 102v8M369 101.5h8M373.5 97v8M370 102.5h8M374.5 98v8M370 101.5h8M374.5 97v8M371 105.5h8M375.5 101v8M371 98.5h8M375.5 94v8M372 98.5h8M376.5 94v8M372 98.5h8M376.5 94v8M373 102.5h8M377.5 98v8M373 106.5h8M377.5 102v8M374 98.5h8M378.5 94v8M374 98.5h8M378.5 94v8M375 98.5h8M379.5 94v8M375 102.5h8M379.5 98v8M376 98.5h8M380.5 94v8M376 103.5h8M380.5 99v8M377 98.5h8M381.5 94v8M377 103.5h8M381.5 99v8M378 106.5h8M382.5 102v8M378 101.5h8M382.5 97v8M379 102.5h8M383.5 98v8M379 98.5h8M383.5 94v8M380 102.5h8M384.5 98v8M380 98.5h8M384.5 94v8M381 102.5h8M385.5 98v8M381 98.5h8M385.5 94v8M382 98.5h8M386.5 94v8M382 106.5h8M386.5 102v8M383 98.5h8M387.5 94v8M383 106.5h8M387.5 102v8M384 105.5h8M388.5 101v8M384 101.5h8M388.5 97v8M385 98.5h8M389.5 94v8M385 98.5h8M389.5 94v8M386 102.5h8M390.5 98v8M386 101.5h8M390.5 97v8M387 106.5h8M391.5 102v8M387 106.5h8M391.5 102v8M388 98.5h8M392.5 94v8M388 98.5h8M392.5 94v8M389 103.5h8M393.5 99v8M389 98.5h8M393.5 94v8M390 106.5h8M394.5 102v8M390 102.5h8M394.5 98v8M391 102.5h8M395.5 98v8M391 106.5h8M395.5 102v8M392 105.5h8M396.5 101v8M392 105.5h8M396.5 101v8M393 98.5h8M397.5 94v8M393 101.5h8M397.5 97v8M394 98.5h8M398.5 94v8M394 98.5h8M398.5 94v8M395 101.5h8M399.5 97v8M395 98.5h8M399.5 94v8M396 106.5h8M400.5 102v8M396 102.5h8M400.5 98v8M397 102.5h8M401.5 98v8M397 102.5h8M401.5 98v8M398 105.5h8M402.5 101v8M398 105.5h8M402.5 101v8M399 105.5h8M403.5 101v8M399 105.5h8M403.5 101v8M400 105.5h8M404.5 101v8M400 105.5h8M404.5 101v8M401 105.5h8M405.5 101v8M401 105.5h8M405.5 101v8M402 105.5h8M406.5 101v8M402 105.5h8M406.5 101v8M403 105.5h8M407.5 101v8M403 105.5h8M407.5 101v8M404 105.5h8M408.5 101v8M404 105.5h8M408.5 101v8M405 105.5h8M409.5 101v8M405 105.5h8M409.5 101v8M406 105.5h8M410.5 101v8M406 105.5h8M410.5 101v8M407 105.5h8M411.5 101v8M407 105.5h8M411.5 101v8M408 105.5h8M412.5 101v8M408 105.5h8M412.5 101v8M409 105.5h8M413.5 101v8M409 105.5h8M413.5 101v8M410 105.5h8M414.5 101v8M410 105.5h8M414.5 101v8M411 105.5h8M415.5 101v8M411 105.5h8M415.5 101v8M412 105.5h8M416.5 101v8M412 105.5h8M416.5 101v8M413 105.5h8M417.5 101v8M413 105.5h8M417.5 101v8M414 105.5h8M418.5 101v8M414 105.5h8M418.5 101v8M415 105.5h8M419.5 101v8M415 105.5h8M419.5 101v8M416 105.5h8M420.5 101v8M416 105.5h8M420.5 101v8M417 105.5h8M421.5 101v8M417 105.5h8M421.5 101v8M418 105.5h8M422.5 101v8M418 105.5h8M422.5 101v8M419 105.5h8M423.5 101v8M419 105.5h8M423.5 101v8M420 105.5h8M424.5 101v8M420 105.5h8M424.5 101v8M421 105.5h8M425.5 101v8M421 105.5h8M425.5 101v8M422 105.5h8M426.5 101v8M422 105.5h8M426.5 101v8M423 105.5h8M427.5 101v8M423 105.5h8M427.5 101v8M424 105.5h8M428.5 101v8M424 105.5h8M428.5 101v8M425 105.5h8M429.5 101v8M425 105.5h8M429.5 101v8M426 105.5h8M430.5 101v8M426 105.5h8M430.5 101v8M427 105.5h8M431.5 101v8M427 105.5h8M431.5 101v8M428 105.5h8M432.5 101v8M428 105.5h8M432.5 101v8M429 105.5h8M433.5 101v8M429 105.5h8M433.5 101v8M430 105.5h8M434.5 101v8M430 105.5h8M434.5 101v8M431 105.5h8M435.5 101v8M431 105.5h8M435.5 101v8M432 105.5h8M436.5 101v8M432 105.5h8M436.5 101v8M433 105.5h8M437.5 101v8M433 124.5h8M437.5 120v8M434 128.5h8M438.5 124v8M434 124.5h8M438.5 120v8M435 132.5h8M439.5 128v8M435 133.5h8M439.5 129v8M436 133.5h8M440.5 129v8M436 129.5h8M440.5 125v8M437 133.5h8M441.5 129v8M437 132.5h8M441.5 128v8M438 124.5h8M442.5 120v8M438 132.5h8M442.5 128v8M439 132.5h8M443.5 128v8M439 128.5h8M443.5 124v8M440 133.5h8M444.5 129v8M440 129.5h8M444.5 125v8M441 129.5h8M445.5 125v8M441 128.5h8M445.5 124v8M442 132.5h8M446.5 128v8M442 124.5h8M446.5 120v8M443 132.5h8M447.5 128v8M443 133.5h8M447.5 129v8M444 128.5h8M448.5 124v8M444 133.5h8M448.5 129v8M445 128.5h8M449.5 124v8M445 124.5h8M449.5 120v8M446 128.5h8M450.5 124v8M446 129.5h8M450.5 125v8M447 124.5h8M451.5 120v8M447 129.5h8M451.5 125v8M448 125.5h8M452.5 121v8M448 129.5h8M452.5 125v8M449 133.5h8M453.5 129v8M449 132.5h8M453.5 128v8M450 124.5h8M454.5 120v8M450 132.5h8M454.5 128v8M451 124.5h8M455.5 120v8M451 124.5h8M455.5 120v8M452 128.5h8M456.5 124v8M452 128.5h8M456.5 124v8M453 129.5h8M457.5 125v8M453 133.5h8M457.5 129v8M454 128.5h8M458.5 124v8M454 124.5h8M458.5 120v8M455 128.5h8M459.5 124v8M455 128.5h8M459.5 124v8M456 124.5h8M460.5 120v8M456 128.5h8M460.5 124v8M457 127.5h8M461.5 123v8M457 128.5h8M461.5 124v8M458 133.5h8M462.5 129v8M458 132.5h8M462.5 128v8M459 129.5h8M463.5 125v8M459 132.5h8M463.5 128v8M460 133.5h8M464.5 129v8M460 124.5h8M464.5 120v8M461 125.5h8M465.5 121v8M461 128.5h8M465.5 124v8M462 133.5h8M466.5 129v8M462 133.5h8M466.5 129v8M463 133.5h8M467.5 129v8M463 132.5h8M467.5 128v8M464 133.5h8M468.5 129v8M464 124.5h8M468.5 120v8M465 124.5h8M469.5 120v8M465 132.5h8M469.5 128v8M466 124.5h8M470.5 120v8M466 124.5h8M470.5 120v8M467 133.5h8M471.5 129v8M467 124.5h8M471.5 120v8M468 133.5h8M472.5 129v8M468 129.5h8M472.5 125v8M469 141.5h8M473.5 137v8M469 145.5h8M473.5 141v8M470 141.5h8M474.5 137v8M470 146.5h8M474.5 142v8M471 146.5h8M475.5 142v8M471 146.5h8M475.5 142v8M472 146.5h8M476.5 142v8M472 141.5h8M476.5 137v8M473 141.5h8M477.5 137v8M473 141.5h8M477.5 137v8M474 141.5h8M478.5 137v8M474 145.5h8M478.5 141v8M475 145.5h8M479.5 141v8M475 146.5h8M479.5 142v8M476 146.5h8M480.5 142v8M476 141.5h8M480.5 137v8M477 146.5h8M481.5 142v8M477 141.5h8M481.5 137v8M478 141.5h8M482.5 137v8M478 145.5h8M482.5 141v8M479 146.5h8M483.5 142v8M479 145.5h8M483.5 141v8M480 146.5h8M484.5 142v8M480 141.5h8M484.5 137v8M481 146.5h8M485.5 142v8M481 146.5h8M485.5 142v8M482 146.5h8M486.5 142v8M482 141.5h8M486.5 137v8M483 141.5h8M487.5 137v8M483 141.5h8M487.5 137v8M484 141.5h8M488.5 137v8M484 146.5h8M488.5 142v8M485 145.5h8M489.5 141v8M485 146.5h8M489.5 142v8M486 145.5h8M490.5 141v8M486 145.5h8M490.5 141v8M487 141.5h8M491.5 137v8M487 141.5h8M491.5 137v8M488 145.5h8M492.5 141v8M488 145.5h8M492.5 141v8M489 146.5h8M493.5 142v8M489 145.5h8M493.5 141v8M490 146.5h8M494.5 142v8M490 146.5h8M494.5 142v8M491 141.5h8M495.5 137v8M491 141.5h8M495.5 137v8M492 146.5h8M496.5 142v8M492 145.5h8M496.5 141v8M493 146.5h8M497.5 142v8M493 146.5h8M497.5 142v8M494 145.5h8M498.5 141v8M494 145.5h8M498.5 141v8M495 146.5h8M499.5 142v8M495 146.5h8M499.5 142v8M496 141.5h8M500.5 137v8M496 146.5h8M500.5 142v8M497 146.5h8M501.5 142v8M497 141.5h8M501.5 137v8M498 146.5h8M502.5 142v8M498 141.5h8M502.5 137v8M499 141.5h8M503.5 137v8M499 141.5h8M503.5 137v8M500 145.5h8M504.5 141v8M500 141.5h8M504.5 137v8M501 146.5h8M505.5 142v8M501 141.5h8M505.5 137v8M502 146.5h8M506.5 142v8M502 146.5h8M506.5 142v8M503 141.5h8M507.5 137v8M503 155.5h8M507.5 151v8M504 155.5h8M508.5 151v8M504 158.5h8M508.5 154v8M505 155.5h8M509.5 151v8M505 158.5h8M509.5 154v8M506 155.5h8M510.5 151v8M506 155.5h8M510.5 151v8M507 158.5h8M511.5 154v8M507 157.5h8M511.5 153v8M508 155.5h8M512.5 151v8M508 155.5h8M512.5 151v8M509 158.5h8M513.5 154v8M509 157.5h8M513.5 153v8M510 158.5h8M514.5 154v8M510 158.5h8M514.5 154v8M511 158.5h8M515.5 154v8M511 158.5h8M515.5 154v8M512 157.5h8M516.5 153v8M512 155.5h8M516.5 151v8M513 158.5h8M517.5 154v8M513 155.5h8M517.5 151v8M514 155.5h8M518.5 151v8M514 158.5h8M518.5 154v8M515 158.5h8M519.5 154v8M515 155.5h8M519.5 151v8M516 155.5h8M520.5 151v8M516 155.5h8M520.5 151v8M517 155.5h8M521.5 151v8M517 158.5h8M521.5 154v8M518 158.5h8M522.5 154v8M518 158.5h8M522.5 154v8M519 158.5h8M523.5 154v8M519 158.5h8M523.5 154v8M520 158.5h8M524.5 154v8M520 158.5h8M524.5 154v8M521 158.5h8M525.5 154v8M521 155.5h8M525.5 151v8M522 155.5h8M526.5 151v8M522 158.5h8M526.5 154v8M523 155.5h8M527.5 151v8M523 158.5h8M527.5 154v8M524 157.5h8M528.5 153v8M524 158.5h8M528.5 154v8M525 155.5h8M529.5 151v8M525 157.5h8M529.5 153v8M526 155.5h8M530.5 151v8M526 158.5h8M530.5 154v8M527 158.5h8M531.5 154v8M527 158.5h8M531.5 154v8M528 158.5h8M532.5 154v8M528 158.5h8M532.5 154v8M529 155.5h8M533.5 151v8M529 155.5h8M533.5 151v8M530 158.5h8M534.5 154v8M530 155.5h8M534.5 151v8M531 155.5h8M535.5 151v8M531 156.5h8M535.5 152v8M532 158.5h8M536.5 154v8M532 158.5h8M536.5 154v8M533 158.5h8M537.5 154v8M533 155.5h8M537.5 151v8M534 155.5h8M538.5 151v8M534 158.5h8M538.5 154v8M535 155.5h8M539.5 151v8M535 158.5h8M539.5 154v8M536 157.5h8M540.5 153v8M536 158.5h8M540.5 154v8M537 158.5h8M541.5 154v8M537 157.5h8M541.5 153v8M538 158.5h8M542.5 154v8M538 158.5h8M542.5 154v8M539 164.5h8M543.5 160v8M539 164.5h8M543.5 160v8M540 168.5h8M544.5 164v8M540 164.5h8M544.5 160v8M541 169.5h8M545.5 165v8M541 164.5h8M545.5 160v8M542 169.5h8M546.5 165v8M542 169.5h8M546.5 165v8M543 164.5h8M547.5 160v8M543 164.5h8M547.5 160v8M544 164.5h8M548.5 160v8M544 168.5h8M548.5 164v8M545 168.5h8M549.5 164v8M545 169.5h8M549.5 165v8M546 169.5h8M550.5 165v8M546 169.5h8M550.5 165v8M547 164.5h8M551.5 160v8M547 164.5h8M551.5 160v8M548 164.5h8M552.5 160v8M548 164.5h8M552.5 160v8M549 169.5h8M553.5 165v8M549 169.5h8M553.5 165v8M550 169.5h8M554.5 165v8M550 169.5h8M554.5 165v8M551 168.5h8M555.5 164v8M551 168.5h8M555.5 164v8M552 164.5h8M556.5 160v8M552 164.5h8M556.5 160v8M553 164.5h8M557.5 160v8M553 169.5h8M557.5 165v8M554 169.5h8M558.5 165v8M554 169.5h8M558.5 165v8M555 169.5h8M559.5 165v8M555 168.5h8M559.5 164v8M556 168.5h8M560.5 164v8M556 169.5h8M560.5 165v8M557 164.5h8M561.5 160v8M557 169.5h8M561.5 165v8M558 168.5h8M562.5 164v8M558 169.5h8M562.5 165v8M559 169.5h8M563.5 165v8M559 168.5h8M563.5 164v8M560 164.5h8M564.5 160v8M560 168.5h8M564.5 164v8M561 169.5h8M565.5 165v8M561 164.5h8M565.5 160v8M562 168.5h8M566.5 164v8M562 169.5h8M566.5 165v8M563 164.5h8M567.5 160v8M563 169.5h8M567.5 165v8M564 164.5h8M568.5 160v8M564 168.5h8M568.5 164v8M565 164.5h8M569.5 160v8M565 164.5h8M569.5 160v8M566 164.5h8M570.5 160v8M566 164.5h8M570.5 160v8M567 168.5h8M571.5 164v8M567 169.5h8M571.5 165v8M568 169.5h8M572.5 165v8M568 169.5h8M572.5 165v8M569 169.5h8M573.5 165v8M569 168.5h8M573.5 164v8M570 165.5h8M574.5 161v8M570 164.5h8M574.5 160v8M571 164.5h8M575.5 160v8M571 169.5h8M575.5 165v8M572 169.5h8M576.5 165v8M572 169.5h8M576.5 165v8M573 165.5h8M577.5 161v8M573 183.5h8M577.5 179v8M574 185.5h8M578.5 181v8M574 185.5h8M578.5 181v8M575 185.5h8M579.5 181v8M575 186.5h8M579.5 182v8M576 185.5h8M580.5 181v8M576 185.5h8M580.5 181v8M577 183.5h8M581.5 179v8M577 186.5h8M581.5 182v8M578 183.5h8M582.5 179v8M578 185.5h8M582.5 181v8M579 185.5h8M583.5 181v8M579 186.5h8M583.5 182v8M580 186.5h8M584.5 182v8M580 186.5h8M584.5 182v8M581 185.5h8M585.5 181v8M581 186.5h8M585.5 182v8M582 186.5h8M586.5 182v8M582 183.5h8M586.5 179v8M583 186.5h8M587.5 182v8M583 186.5h8M587.5 182v8M584 186.5h8M588.5 182v8M584 186.5h8M588.5 182v8M585 183.5h8M589.5 179v8M585 186.5h8M589.5 182v8M586 186.5h8M590.5 182v8M586 185.5h8M590.5 181v8M587 183.5h8M591.5 179v8M587 183.5h8M591.5 179v8M588 186.5h8M592.5 182v8M588 183.5h8M592.5 179v8M589 186.5h8M593.5 182v8M589 186.5h8M593.5 182v8M590 186.5h8M594.5 182v8M590 183.5h8M594.5 179v8M591 186.5h8M595.5 182v8M591 183.5h8M595.5 179v8M592 185.5h8M596.5 181v8M592 183.5h8M596.5 179v8M593 183.5h8M597.5 179v8M593 186.5h8M597.5 182v8M594 186.5h8M598.5 182v8M594 183.5h8M598.5 179v8M595 183.5h8M599.5 179v8M595 183.5h8M599.5 179v8M596 183.5h8M600.5 179v8M596 183.5h8M600.5 179v8M597 183.5h8M601.5 179v8M597 183.5h8M601.5 179v8M598 186.5h8M602.5 182v8M598 185.5h8M602.5 181v8M599 186.5h8M603.5 182v8M599 186.5h8M603.5 182v8M600 183.5h8M604.5 179v8M600 183.5h8M604.5 179v8M601 186.5h8M605.5 182v8M601 186.5h8M605.5 182v8M602 186.5h8M606.5 182v8M602 186.5h8M606.5 182v8M603 186.5h8M607.5 182v8M603 186.5h8M607.5 182v8M604 185.5h8M608.5 181v8M604 186.5h8M608.5 182v8M605 183.5h8M609.5 179v8M605 183.5h8M609.5 179v8M606 185.5h8M610.5 181v8M606 185.5h8M610.5 181v8M607 186.5h8M611.5 182v8M607 186.5h8M611.5 182v8M608 199.5h8M612.5 195v8M608 201.5h8M612.5 197v8M609 200.5h8M613.5 196v8M609 201.5h8M613.5 197v8M610 202.5h8M614.5 198v8M610 200.5h8M614.5 196v8M611 199.5h8M615.5 195v8M611 201.5h8M615.5 197v8M612 200.5h8M616.5 196v8M612 199.5h8M616.5 195v8M613 200.5h8M617.5 196v8M613 200.5h8M617.5 196v8M614 200.5h8M618.5 196v8M614 202.5h8M618.5 198v8M615 199.5h8M619.5 195v8M615 199.5h8M619.5 195v8M616 201.5h8M620.5 197v8M616 200.5h8M620.5 196v8M617 199.5h8M621.5 195v8M617 200.5h8M621.5 196v8M618 201.5h8M622.5 197v8M618 200.5h8M622.5 196v8M619 202.5h8M623.5 198v8M619 201.5h8M623.5 197v8M620 199.5h8M624.5 195v8M620 200.5h8M624.5 196v8M621 199.5h8M625.5 195v8M621 199.5h8M625.5 195v8M622 199.5h8M626.5 195v8M622 201.5h8M626.5 197v8M623 200.5h8M627.5 196v8M623 202.5h8M627.5 198v8M624 200.5h8M628.5 196v8M624 200.5h8M628.5 196v8M625 200.5h8M629.5 196v8M625 200.5h8M629.5 196v8M626 199.5h8M630.5 195v8M626 200.5h8M630.5 196v8M627 200.5h8M631.5 196v8M627 200.5h8M631.5 196v8M628 202.5h8M632.5 198v8M628 201.5h8M632.5 197v8M629 199.5h8M633.5 195v8M629 201.5h8M633.5 197v8M630 199.5h8M634.5 195v8M630 199.5h8M634.5 195v8M631 199.5h8M635.5 195v8M631 200.5h8M635.5 196v8M632 201.5h8M636.5 197v8M632 202.5h8M636.5 198v8M633 201.5h8M637.5 197v8M633 200.5h8M637.5 196v8M634 200.5h8M638.5 196v8M634 200.5h8M638.5 196v8M635 199.5h8M639.5 195v8M635 200.5h8M639.5 196v8M636 200.5h8M640.5 196v8M636 200.5h8M640.5 196v8M637 202.5h8M641.5 198v8M637 200.5h8M641.5 196v8M638 201.5h8M642.5 197v8M638 201.5h8M642.5 197v8M639 200.5h8M643.5 196v8M639 199.5h8M643.5 195v8M640 200.5h8M644.5 196v8M640 211.5h8M644.5 207v8M641 211.5h8M645.5 207v8M641 211.5h8M645.5 207v8M642 212.5h8M646.5 208v8M642 213.5h8M646.5 209v8M643 212.5h8M647.5 208v8M643 212.5h8M647.5 208v8M644 211.5h8M648.5 207v8M644 211.5h8M648.5 207v8M645 211.5h8M649.5 207v8M645 212.5h8M649.5 208v8M646 212.5h8M650.5 208v8M646 212.5h8M650.5 208v8M647 213.5h8M651.5 209v8M647 212.5h8M651.5 208v8M648 213.5h8M652.5 209v8M648 211.5h8M652.5 207v8M649 212.5h8M653.5 208v8M649 211.5h8M653.5 207v8M650 211.5h8M654.5 207v8M650 211.5h8M654.5 207v8M651 212.5h8M655.5 208v8M651 213.5h8M655.5 209v8M652 212.5h8M656.5 208v8M652 212.5h8M656.5 208v8M653 211.5h8M657.5 207v8M653 211.5h8M657.5 207v8M654 211.5h8M658.5 207v8M654 212.5h8M658.5 208v8M655 212.5h8M659.5 208v8M655 211.5h8M659.5 207v8M656 213.5h8M660.5 209v8M656 212.5h8M660.5 208v8M657 212.5h8M661.5 208v8M657 211.5h8M661.5 207v8M658 212.5h8M662.5 208v8M658 211.5h8M662.5 207v8M659 211.5h8M663.5 207v8M659 212.5h8M663.5 208v8M660 212.5h8M664.5 208v8M660 213.5h8M664.5 209v8M661 211.5h8M665.5 207v8M661 212.5h8M665.5 208v8M662 211.5h8M666.5 207v8M662 211.5h8M666.5 207v8M663 211.5h8M667.5 207v8M663 212.5h8M667.5 208v8M664 211.5h8M668.5 207v8M664 212.5h8M668.5 208v8M665 213.5h8M669.5 209v8M665 212.5h8M669.5 208v8M666 212.5h8M670.5 208v8M666 212.5h8M670.5 208v8M667 211.5h8M671.5 207v8M667 211.5h8M671.5 207v8M668 211.5h8M672.5 207v8M668 211.5h8M672.5 207v8M669 212.5h8M673.5 208v8M669 213.5h8M673.5 209v8M670 211.5h8M674.5 207v8M670 212.5h8M674.5 208v8M671 212.5h8M675.5 208v8M671 211.5h8M675.5 207v8M672 224.5h8M676.5 220v8M672 224.5h8M676.5 220v8M673 224.5h8M677.5 220v8M673 225.5h8M677.5 221v8M674 226.5h8M678.5 222v8M674 225.5h8M678.5 221v8M675 225.5h8M679.5 221v8M675 225.5h8M679.5 221v8M676 225.5h8M680.5 221v8M676 224.5h8M680.5 220v8M677 224.5h8M681.5 220v8M677 225.5h8M681.5 221v8M678 224.5h8M682.5 220v8M678 226.5h8M682.5 222v8M679 225.5h8M683.5 221v8M679 226.5h8M683.5 222v8M680 224.5h8M684.5 220v8M680 226.5h8M684.5 222v8M681 224.5h8M685.5 220v8M681 226.5h8M685.5 222v8M682 225.5h8M686.5 221v8M682 225.5h8M686.5 221v8M683 226.5h8M687.5 222v8M683 224.5h8M687.5 220v8M684 225.5h8M688.5 221v8M684 225.5h8M688.5 221v8M685 225.5h8M689.5 221v8M685 224.5h8M689.5 220v8M686 226.5h8M690.5 222v8M686 225.5h8M690.5 221v8M687 225.5h8M691.5 221v8M687 226.5h8M691.5 222v8M688 226.5h8M692.5 222v8M688 225.5h8M692.5 221v8M689 225.5h8M693.5 221v8M689 225.5h8M693.5 221v8M690 224.5h8M694.5 220v8M690 225.5h8M694.5 221v8M691 225.5h8M695.5 221v8M691 224.5h8M695.5 220v8M692 226.5h8M696.5 222v8M692 226.5h8M696.5 222v8M693 226.5h8M697.5 222v8M693 225.5h8M697.5 221v8M694 226.5h8M698.5 222v8M694 224.5h8M698.5 220v8M695 225.5h8M699.5 221v8M695 225.5h8M699.5 221v8M696 225.5h8M700.5 221v8M696 226.5h8M700.5 222v8M697 224.5h8M701.5 220v8M697 224.5h8M701.5 220v8M698 226.5h8M702.5 222v8M698 225.5h8M702.5 221v8M699 224.5h8M703.5 220v8M699 225.5h8M703.5 221v8M700 225.5h8M704.5 221v8M700 225.5h8M704.5 221v8M701 226.5h8M705.5 222v8M701 225.5h8M705.5 221v8M702 226.5h8M706.5 222v8M702 242.5h8M706.5 238v8M703 244.5h8M707.5 240v8M703 243.5h8M707.5 239v8M704 244.5h8M708.5 240v8M704 245.5h8M708.5 241v8M705 243.5h8M709.5 239v8M705 243.5h8M709.5 239v8M706 244.5h8M710.5 240v8M706 243.5h8M710.5 239v8M707 242.5h8M711.5 238v8M707 243.5h8M711.5 239v8M708 243.5h8M712.5 239v8M708 244.5h8M712.5 240v8M709 245.5h8M713.5 241v8M709 243.5h8M713.5 239v8M710 244.5h8M714.5 240v8M710 244.5h8M714.5 240v8M711 243.5h8M715.5 239v8M711 242.5h8M715.5 238v8M712 243.5h8M716.5 239v8M712 244.5h8M716.5 240v8M713 244.5h8M717.5 240v8M713 245.5h8M717.5 241v8M714 244.5h8M718.5 240v8M714 244.5h8M718.5 240v8M715 243.5h8M719.5 239v8M715 244.5h8M719.5 240v8M716 242.5h8M720.5 238v8M716 243.5h8M720.5 239v8M717 243.5h8M721.5 239v8M717 244.5h8M721.5 240v8M718 245.5h8M722.5 241v8M718 244.5h8M722.5 240v8M719 244.5h8M723.5 240v8M719 244.5h8M723.5 240v8M720 244.5h8M724.5 240v8M720 242.5h8M724.5 238v8M721 245.5h8M725.5 241v8M721 244.5h8M725.5 240v8M722 243.5h8M726.5 239v8M722 245.5h8M726.5 241v8M723 243.5h8M727.5 239v8M723 244.5h8M727.5 240v8M724 243.5h8M728.5 239v8M724 244.5h8M728.5 240v8M725 242.5h8M729.5 238v8M725 243.5h8M729.5 239v8M726 243.5h8M730.5 239v8M726 244.5h8M730.5 240v8M727 245.5h8M731.5 241v8M727 243.5h8M731.5 239v8M728 243.5h8M732.5 239v8M728 244.5h8M732.5 240v8M729 244.5h8M733.5 240v8M729 242.5h8M733.5 238v8M730 243.5h8M734.5 239v8M730 243.5h8M734.5 239v8M731 244.5h8M735.5 240v8M731 245.5h8M735.5 241v8M732 243.5h8M736.5 239v8M732 264.5h8M736.5 260v8M733 265.5h8M737.5 261v8M733 264.5h8M737.5 260v8M734 265.5h8M738.5 261v8M734 265.5h8M738.5 261v8M735 264.5h8M739.5 260v8M735 264.5h8M739.5 260v8M736 265.5h8M740.5 261v8M736 265.5h8M740.5 261v8M737 264.5h8M741.5 260v8M737 264.5h8M741.5 260v8M738 264.5h8M742.5 260v8M738 264.5h8M742.5 260v8M739 265.5h8M743.5 261v8M739 264.5h8M743.5 260v8M740 264.5h8M744.5 260v8M740 264.5h8M744.5 260v8M741 265.5h8M745.5 261v8M741 264.5h8M745.5 260v8M742 264.5h8M746.5 260v8M742 264.5h8M746.5 260v8M743 265.5h8M747.5 261v8M743 265.5h8M747.5 261v8M744 264.5h8M748.5 260v8M744 265.5h8M748.5 261v8M745 264.5h8M749.5 260v8M745 264.5h8M749.5 260v8M746 264.5h8M750.5 260v8M746 265.5h8M750.5 261v8M747 264.5h8M751.5 260v8M747 264.5h8M751.5 260v8M748 265.5h8M752.5 261v8M748 264.5h8M752.5 260v8M749 265.5h8M753.5 261v8M749 264.5h8M753.5 260v8M750 264.5h8M754.5 260v8M750 264.5h8M754.5 260v8M751 264.5h8M755.5 260v8M751 264.5h8M755.5 260v8M752 265.5h8M756.5 261v8M752 265.5h8M756.5 261v8M753 264.5h8M757.5 260v8M753 264.5h8M757.5 260v8M754 264.5h8M758.5 260v8M754 265.5h8M758.5 261v8M755 264.5h8M759.5 260v8M755 265.5h8M759.5 261v8M756 264.5h8M760.5 260v8M756 264.5h8M760.5 260v8M757 265.5h8M761.5 261v8M757 265.5h8M761.5 261v8M758 264.5h8M762.5 260v8M758 264.5h8M762.5 260v8M759 264.5h8M763.5 260v8M759 264.5h8M763.5 260v8M760 264.5h8M764.5 260v8M760 264.5h8M764.5 260v8M761 266.5h8M765.5 262v8M761 266.5h8M765.5 262v8M762 266.5h8M766.5 262v8M762 266.5h8M766.5 262v8M763 266.5h8M767.5 262v8M763 266.5h8M767.5 262v8M764 266.5h8M768.5 262v8M764 266.5h8M768.5 262v8M765 266.5h8M769.5 262v8M765 266.5h8M769.5 262v8M766 266.5h8M770.5 262v8M766 266.5h8M770.5 262v8M767 266.5h8M771.5 262v8M767 266.5h8M771.5 262v8M768 266.5h8M772.5 262v8M768 266.5h8M772.5 262v8M769 266.5h8M773.5 262v8M769 266.5h8M773.5 262v8M770 266.5h8M774.5 262v8M770 266.5h8M774.5 262v8M771 266.5h8M775.5 262v8M771 266.5h8M775.5 262v8M772 266.5h8M776.5 262v8M772 266.5h8M776.5 262v8M773 266.5h8M777.5 262v8M773 266.5h8M777.5 262v8M774 266.5h8M778.5 262v8M774 266.5h8M778.5 262v8M775 266.5h8M779.5 262v8M775 266.5h8M779.5 262v8M776 266.5h8M780.5 262v8M776 266.5h8M780.5 262v8M777 266.5h8M781.5 262v8M777 266.5h8M781.5 262v8M778 266.5h8M782.5 262v8M778 266.5h8M782.5 262v8M779 266.5h8M783.5 262v8M779 266.5h8M783.5 262v8M780 266.5h8M784.5 262v8M780 266.5h8M784.5 262v8M781 266.5h8M785.5 262v8M781 266.5h8M785.5 262v8M782 266.5h8M786.5 262v8M782 266.5h8M786.5 262v8M783 266.5h8M787.5 262v8M783 266.5h8M787.5 262v8M784 266.5h8M788.5 262v8M784 266.5h8M788.5 262v8M785 266.5h8M789.5 262v8M785 266.5h8M789.5 262v8M786 266.5h8M790.5 262v8M786 292.5h8M790.5 288v8M787 293.5h8M791.5 289v8M787 292.5h8M791.5 288v8M788 292.5h8M792.5 288v8M788 293.5h8M792.5 289v8M789 292.5h8M793.5 288v8M789 292.5h8M793.5 288v8M790 292.5h8M794.5 288v8M790 293.5h8M794.5 289v8M791 292.5h8M795.5 288v8M791 292.5h8M795.5 288v8M792 293.5h8M796.5 289v8M792 293.5h8M796.5 289v8M793 293.5h8M797.5 289v8M793 292.5h8M797.5 288v8M794 292.5h8M798.5 288v8M794 292.5h8M798.5 288v8M795 293.5h8M799.5 289v8M795 292.5h8M799.5 288v8M796 292.5h8M800.5 288v8M796 292.5h8M800.5 288v8M797 293.5h8M801.5 289v8M797 293.5h8M801.5 289v8M798 292.5h8M802.5 288v8M798 292.5h8M802.5 288v8M799 293.5h8M803.5 289v8M799 293.5h8M803.5 289v8M800 292.5h8M804.5 288v8M800 292.5h8M804.5 288v8M801 292.5h8M805.5 288v8M801 292.5h8M805.5 288v8M802 293.5h8M806.5 289v8M802 293.5h8M806.5 289v8M803 292.5h8M807.5 288v8M803 293.5h8M807.5 289v8M804 293.5h8M808.5 289v8M804 292.5h8M808.5 288v8M805 293.5h8M809.5 289v8M805 293.5h8M809.5 289v8M806 292.5h8M810.5 288v8M806 293.5h8M810.5 289v8M807 293.5h8M811.5 289v8M807 293.5h8M811.5 289v8M808 292.5h8M812.5 288v8M808 293.5h8M812.5 289v8M809 292.5h8M813.5 288v8M809 292.5h8M813.5 288v8M810 293.5h8M814.5 289v8M810 293.5h8M814.5 289v8M811 293.5h8M815.5 289v8M811 305.5h8M815.5 301v8M812 305.5h8M816.5 301v8M812 305.5h8M816.5 301v8M813 305.5h8M817.5 301v8M813 305.5h8M817.5 301v8M814 305.5h8M818.5 301v8M814 305.5h8M818.5 301v8M815 305.5h8M819.5 301v8M815 305.5h8M819.5 301v8M816 305.5h8M820.5 301v8M816 305.5h8M820.5 301v8M817 305.5h8M821.5 301v8M817 305.5h8M821.5 301v8M818 305.5h8M822.5 301v8M818 305.5h8M822.5 301v8M819 305.5h8M823.5 301v8M819 305.5h8M823.5 301v8M820 305.5h8M824.5 301v8M820 305.5h8M824.5 301v8M821 305.5h8M825.5 301v8M821 305.5h8M825.5 301v8M822 305.5h8M826.5 301v8M822 305.5h8M826.5 301v8M823 305.5h8M827.5 301v8M823 305.5h8M827.5 301v8M824 305.5h8M828.5 301v8M824 305.5h8M828.5 301v8M825 305.5h8M829.5 301v8M825 305.5h8M829.5 301v8M826 305.5h8M830.5 301v8M826 305.5h8M830.5 301v8M827 305.5h8M831.5 301v8M827 305.5h8M831.5 301v8M828 305.5h8M832.5 301v8M828 305.5h8M832.5 301v8M829 305.5h8M833.5 301v8M829 305.5h8M833.5 301v8M830 305.5h8M834.5 301v8M830 305.5h8M834.5 301v8M831 305.5h8M835.5 301v8M831 305.5h8M835.5 301v8M832 305.5h8M836.5 301v8M832 305.5h8M836.5 301v8M833 305.5h8M837.5 301v8M833 305.5h8M837.5 301v8M834 305.5h8M838.5 301v8M834 326.5h8M838.5 322v8M835 326.5h8M839.5 322v8M835 326.5h8M839.5 322v8M836 326.5h8M840.5 322v8M836 326.5h8M840.5 322v8M837 326.5h8M841.5 322v8M837 326.5h8M841.5 322v8M838 326.5h8M842.5 322v8M838 326.5h8M842.5 322v8M839 326.5h8M843.5 322v8M839 326.5h8M843.5 322v8M840 326.5h8M844.5 322v8M840 326.5h8M844.5 322v8M841 326.5h8M845.5 322v8M841 326.5h8M845.5 322v8M842 326.5h8M846.5 322v8M842 326.5h8M846.5 322v8M843 326.5h8M847.5 322v8M843 326.5h8M847.5 322v8M844 326.5h8M848.5 322v8M844 326.5h8M848.5 322v8M845 326.5h8M849.5 322v8M845 326.5h8M849.5 322v8M846 326.5h8M850.5 322v8M846 326.5h8M850.5 322v8M847 326.5h8M851.5 322v8M847 326.5h8M851.5 322v8M848 326.5h8M852.5 322v8M848 326.5h8M852.5 322v8M849 326.5h8M853.5 322v8M849 326.5h8M853.5 322v8M850 326.5h8M854.5 322v8M850 326.5h8M854.5 322v8M851 326.5h8M855.5 322v8M851 326.5h8M855.5 322v8M852 326.5h8M856.5 322v8M852 326.5h8M856.5 322v8M853 326.5h8M857.5 322v8M853 326.5h8M857.5 322v8M854 326.5h8M858.5 322v8M854 326.5h8M858.5 322v8M855 326.5h8M859.5 322v8M855 326.5h8M859.5 322v8M856 326.5h8M860.5 322v8M856 326.5h8M860.5 322v8M857 326.5h8M861.5 322v8M857 338.5h8M861.5 334v8M858 338.5h8M862.5 334v8M858 339.5h8M862.5 335v8M859 339.5h8M863.5 335v8M859 339.5h8M863.5 335v8M860 338.5h8M864.5 334v8M860 339.5h8M864.5 335v8M861 338.5h8M865.5 334v8M861 338.5h8M865.5 334v8M862 338.5h8M866.5 334v8M862 338.5h8M866.5 334v8M863 338.5h8M867.5 334v8M863 339.5h8M867.5 335v8M864 339.5h8M868.5 335v8M864 338.5h8M868.5 334v8M865 339.5h8M869.5 335v8M865 338.5h8M869.5 334v8M866 339.5h8M870.5 335v8M866 338.5h8M870.5 334v8M867 338.5h8M871.5 334v8M867 339.5h8M871.5 335v8M868 338.5h8M872.5 334v8M868 339.5h8M872.5 335v8M869 339.5h8M873.5 335v8M869 339.5h8M873.5 335v8M870 338.5h8M874.5 334v8M870 338.5h8M874.5 334v8M871 338.5h8M875.5 334v8M871 338.5h8M875.5 334v8M872 338.5h8M876.5 334v8M872 338.5h8M876.5 334v8M873 339.5h8M877.5 335v8M873 338.5h8M877.5 334v8M874 339.5h8M878.5 335v8M874 338.5h8M878.5 334v8M875 338.5h8M879.5 334v8M875 338.5h8M879.5 334v8M876 338.5h8M880.5 334v8M876 338.5h8M880.5 334v8M877 339.5h8M881.5 335v8M877 339.5h8M881.5 335v8M878 360.5h8M882.5 356v8M878 360.5h8M882.5 356v8M879 360.5h8M883.5 356v8M879 360.5h8M883.5 356v8M880 360.5h8M884.5 356v8M880 360.5h8M884.5 356v8M881 360.5h8M885.5 356v8M881 360.5h8M885.5 356v8M882 360.5h8M886.5 356v8M882 360.5h8M886.5 356v8M883 360.5h8M887.5 356v8M883 360.5h8M887.5 356v8M884 360.5h8M888.5 356v8M884 360.5h8M888.5 356v8M885 360.5h8M889.5 356v8M885 360.5h8M889.5 356v8M886 360.5h8M890.5 356v8M886 360.5h8M890.5 356v8M887 360.5h8M891.5 356v8M887 360.5h8M891.5 356v8M888 360.5h8M892.5 356v8M888 360.5h8M892.5 356v8M889 360.5h8M893.5 356v8M889 360.5h8M893.5 356v8M890 360.5h8M894.5 356v8M890 360.5h8M894.5 356v8M891 360.5h8M895.5 356v8M891 360.5h8M895.5 356v8M892 360.5h8M896.5 356v8M892 360.5h8M896.5 356v8M893 360.5h8M897.5 356v8M893 360.5h8M897.5 356v8M894 360.5h8M898.5 356v8M894 360.5h8M898.5 356v8M895 360.5h8M899.5 356v8M895 360.5h8M899.5 356v8M896 360.5h8M900.5 356v8M896 360.5h8M900.5 356v8M897 373.5h8M901.5 369v8M897 373.5h8M901.5 369v8M898 373.5h8M902.5 369v8M898 374.5h8M902.5 370v8M899 374.5h8M903.5 370v8M899 373.5h8M903.5 369v8M900 374.5h8M904.5 370v8M900 373.5h8M904.5 369v8M901 374.5h8M905.5 370v8M901 373.5h8M905.5 369v8M902 374.5h8M906.5 370v8M902 374.5h8M906.5 370v8M903 374.5h8M907.5 370v8M903 374.5h8M907.5 370v8M904 374.5h8M908.5 370v8M904 373.5h8M908.5 369v8M905 374.5h8M909.5 370v8M905 373.5h8M909.5 369v8M906 373.5h8M910.5 369v8M906 373.5h8M910.5 369v8M907 373.5h8M911.5 369v8M907 374.5h8M911.5 370v8M908 374.5h8M912.5 370v8M908 373.5h8M912.5 369v8M909 373.5h8M913.5 369v8M909 373.5h8M913.5 369v8M910 373.5h8M914.5 369v8M910 373.5h8M914.5 369v8M911 374.5h8M915.5 370v8M911 373.5h8M915.5 369v8M912 373.5h8M916.5 369v8M912 374.5h8M916.5 370v8" stroke="#9400d3" stroke-width="1" fill="none"/>
<path d="M50.4 43.5 L59.2 43.5 L67.9 43.5 L76.7 43.5 L85.4 43.5 L94.2 43.5 L102.9 44.0 L111.7 47.2 L120.5 49.2 L129.2 49.9 L138.0 50.3 L146.7 54.4 L155.5 57.3 L164.3 58.1 L173.0 58.3 L181.8 59.4 L190.5 59.4 L199.3 60.2 L208.0 60.3 L216.8 61.5 L225.6 62.2 L234.3 63.4 L243.1 64.3 L251.8 67.1 L260.6 72.1 L269.3 74.8 L278.1 77.3 L286.9 79.0 L295.6 82.1 L304.4 85.4 L313.1 86.2 L321.9 90.1 L330.7 95.1 L339.4 99.5 L348.2 102.1 L356.9 102.1 L365.7 102.3 L374.4 103.4 L383.2 103.0 L392.0 103.4 L400.7 104.0 L409.5 104.3 L418.2 106.4 L427.0 109.2 L435.8 116.1 L444.5 123.0 L453.3 129.2 L462.0 132.3 L470.8 136.1 L479.5 140.3 L488.3 143.1 L497.1 145.3 L505.8 149.4 L514.6 153.5 L523.3 156.3 L532.1 158.0 L540.8 160.8 L549.6 164.3 L558.4 167.1 L567.1 170.2 L575.9 175.0 L584.6 180.4 L593.4 184.2 L602.2 188.1 L610.9 192.9 L619.7 196.8 L628.4 201.1 L637.2 203.2 L645.9 207.0 L654.7 210.1 L663.5 213.0 L672.2 217.0 L681.0 221.1 L689.7 224.9 L698.5 229.1 L707.2 235.0 L716.0 241.4 L724.8 246.2 L733.5 252.1 L742.3 258.8 L751.0 263.5 L759.8 264.9 L768.6 266.3 L777.3 268.1 L786.1 274.3 L794.8 285.2 L803.6 292.5 L812.3 296.3 L821.1 302.2 L829.9 307.2 L838.6 315.3 L847.4 324.7 L856.1 328.0 L864.9 335.6 L873.7 339.1 L882.4 349.5 L891.2 359.6 L899.9 364.6 L908.7 373.3 L917.4 374.2" stroke="#56b4e9" stroke-width="1" fill="none"/>
<path d="M47 43.5h7M50.5 40v7M47 40l7 7M47 47l7 -7M56 43.5h7M59.5 40v7M56 40l7 7M56 47l7 -7M64 43.5h7M67.5 40v7M64 40l7 7M64 47l7 -7M73 43.5h7M76.5 40v7M73 40l7 7M73 47l7 -7M82 43.5h7M85.5 40v7M82 40l7 7M82 47l7 -7M91 43.5h7M94.5 40v7M91 40l7 7M91 47l7 -7M99 44.5h7M102.5 41v7M99 41l7 7M99 48l7 -7M108 47.5h7M111.5 44v7M108 44l7 7M108 51l7 -7M117 49.5h7M120.5 46v7M117 46l7 7M117 53l7 -7M126 49.5h7M129.5 46v7M126 46l7 7M126 53l7 -7M134 50.5h7M137.5 47v7M134 47l7 7M134 54l7 -7M143 54.5h7M146.5 51v7M143 51l7 7M143 58l7 -7M152 57.5h7M155.5 54v7M152 54l7 7M152 61l7 -7M161 58.5h7M164.5 55v7M161 55l7 7M161 62l7 -7M170 58.5h7M173.5 55v7M170 55l7 7M170 62l7 -7M178 59.5h7M181.5 56v7M178 56l7 7M178 63l7 -7M187 59.5h7M190.5 56v7M187 56l7 7M187 63l7 -7M196 60.5h7M199.5 57v7M196 57l7 7M196 64l7 -7M205 60.5h7M208.5 57v7M205 57l7 7M205 64l7 -7M213 61.5h7M216.5 58v7M213 58l7 7M213 65l7 -7M222 62.5h7M225.5 59v7M222 59l7 7M222 66l7 -7M231 63.5h7M234.5 60v7M231 60l7 7M231 67l7 -7M240 64.5h7M243.5 61v7M240 61l7 7M240 68l7 -7M248 67.5h7M251.5 64v7M248 64l7 7M248 71l7 -7M257 72.5h7M260.5 69v7M257 69l7 7M257 76l7 -7M266 74.5h7M269.5 71v7M266 71l7 7M266 78l7 -7M275 77.5h7M278.5 74v7M275 74l7 7M275 81l7 -7M283 79.5h7M286.5 76v7M283 76l7 7M283 83l7 -7M292 82.5h7M295.5 79v7M292 79l7 7M292 86l7 -7M301 85.5h7M304.5 82v7M301 82l7 7M301 89l7 -7M310 86.5h7M313.5 83v7M310 83l7 7M310 90l7 -7M318 90.5h7M321.5 87v7M318 87l7 7M318 94l7 -7M327 95.5h7M330.5 92v7M327 92l7 7M327 99l7 -7M336 99.5h7M339.5 96v7M336 96l7 7M336 103l7 -7M345 102.5h7M348.5 99v7M345 99l7 7M345 106l7 -7M353 102.5h7M356.5 99v7M353 99l7 7M353 106l7 -7M362 102.5h7M365.5 99v7M362 99l7 7M362 106l7 -7M371 103.5h7M374.5 100v7M371 100l7 7M371 107l7 -7M380 103.5h7M383.5 100v7M380 100l7 7M380 107l7 -7M388 103.5h7M391.5 100v7M388 100l7 7M388 107l7 -7M397 104.5h7M400.5 101v7M397 101l7 7M397 108l7 -7M406 104.5h7M409.5 101v7M406 101l7 7M406 108l7 -7M415 106.5h7M418.5 103v7M415 103l7 7M415 110l7 -7M423 109.5h7M426.5 106v7M423 106l7 7M423 113l7 -7M432 116.5h7M435.5 113v7M432 113l7 7M432 120l7 -7M441 123.5h7M444.5 120v7M441 120l7 7M441 127l7 -7M450 129.5h7M453.5 126v7M450 126l7 7M450 133l7 -7M459 132.5h7M462.5 129v7M459 129l7 7M459 136l7 -7M467 136.5h7M470.5 133v7M467 133l7 7M467 140l7 -7M476 140.5h7M479.5 137v7M476 137l7 7M476 144l7 -7M485 143.5h7M488.5 140v7M485 140l7 7M485 147l7 -7M494 145.5h7M497.5 142v7M494 142l7 7M494 149l7 -7M502 149.5h7M505.5 146v7M502 146l7 7M502 153l7 -7M511 153.5h7M514.5 150v7M511 150l7 7M511 157l7 -7M520 156.5h7M523.5 153v7M520 153l7 7M520 160l7 -7M529 158.5h7M532.5 155v7M529 155l7 7M529 162l7 -7M537 160.5h7M540.5 157v7M537 157l7 7M537 164l7 -7M546 164.5h7M549.5 161v7M546 161l7 7M546 168l7 -7M555 167.5h7M558.5 164v7M555 164l7 7M555 171l7 -7M564 170.5h7M567.5 167v7M564 167l7 7M564 174l7 -7M572 175.5h7M575.5 172v7M572 172l7 7M572 179l7 -7M581 180.5h7M584.5 177v7M581 177l7 7M581 184l7 -7M590 184.5h7M593.5 181v7M590 181l7 7M590 188l7 -7M599 188.5h7M602.5 185v7M599 185l7 7M599 192l7 -7M607 192.5h7M610.5 189v7M607 189l7 7M607 196l7 -7M616 196.5h7M619.5 193v7M616 193l7 7M616 200l7 -7M625 201.5h7M628.5 198v7M625 198l7 7M625 205l7 -7M634 203.5h7M637.5 200v7M634 200l7 7M634 207l7 -7M642 207.5h7M645.5 204v7M642 204l7 7M642 211l7 -7M651 210.5h7M654.5 207v7M651 207l7 7M651 214l7 -7M660 213.5h7M663.5 210v7M660 210l7 7M660 217l7 -7M669 217.5h7M672.5 214v7M669 214l7 7M669 221l7 -7M677 221.5h7M680.5 218v7M677 218l7 7M677 225l7 -7M686 224.5h7M689.5 221v7M686 221l7 7M686 228l7 -7M695 229.5h7M698.5 226v7M695 226l7 7M695 233l7 -7M704 235.5h7M707.5 232v7M704 232l7 7M704 239l7 -7M713 241.5h7M716.5 238v7M713 238l7 7M713 245l7 -7M721 246.5h7M724.5 243v7M721 243l7 7M721 250l7 -7M730 252.5h7M733.5 249v7M730 249l7 7M730 256l7 -7M739 258.5h7M742.5 255v7M739 255l7 7M739 262l7 -7M748 263.5h7M751.5 260v7M748 260l7 7M748 267l7 -7M756 264.5h7M759.5 261v7M756 261l7 7M756 268l7 -7M765 266.5h7M768.5 263v7M765 263l7 7M765 270l7 -7M774 268.5h7M777.5 265v7M774 265l7 7M774 272l7 -7M783 274.5h7M786.5 271v7M783 271l7 7M783 278l7 -7M791 285.5h7M794.5 282v7M791 282l7 7M791 289l7 -7M800 292.5h7M803.5 289v7M800 289l7 7M800 296l7 -7M809 296.5h7M812.5 293v7M809 293l7 7M809 300l7 -7M818 302.5h7M821.5 299v7M818 299l7 7M818 306l7 -7M826 307.5h7M829.5 304v7M826 304l7 7M826 311l7 -7M835 315.5h7M838.5 312v7M835 312l7 7M835 319l7 -7M844 324.5h7M847.5 321v7M844 321l7 7M844 328l7 -7M853 328.5h7M856.5 325v7M853 325l7 7M853 332l7 -7M861 335.5h7M864.5 332v7M861 332l7 7M861 339l7 -7M870 339.5h7M873.5 336v7M870 336l7 7M870 343l7 -7M879 349.5h7M882.5 346v7M879 346l7 7M879 353l7 -7M888 359.5h7M891.5 356v7M888 356l7 7M888 363l7 -7M896 364.5h7M899.5 361v7M896 361l7 7M896 368l7 -7M905 373.5h7M908.5 370v7M905 370l7 7M905 377l7 -7M914 374.5h7M917.5 371v7M914 371l7 7M914 378l7 -7" stroke="#56b4e9" stroke-width="1" fill="none"/>
<rect x="50.5" y="36.5" width="888" height="357" stroke="#000" stroke-width="1" fill="none"/>
</svg>
</body></html>
